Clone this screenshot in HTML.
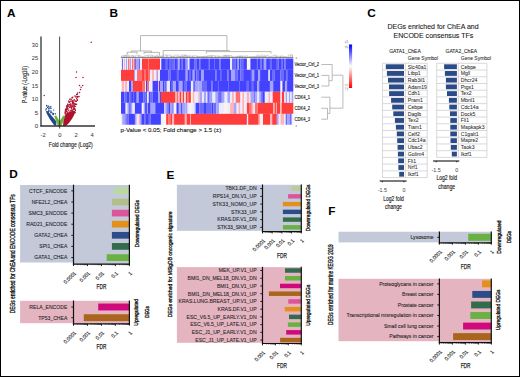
<!DOCTYPE html>
<html><head><meta charset="utf-8"><style>
html,body{margin:0;padding:0;background:#fff;}
body{width:520px;height:377px;overflow:hidden;}
svg{display:block;font-family:"Liberation Sans", sans-serif;}
</style></head><body>
<svg width="520" height="377" viewBox="0 0 520 377">
<defs>
<linearGradient id="cb" x1="0" y1="0" x2="0" y2="1"><stop offset="0" stop-color="#0000ff"/><stop offset="0.5" stop-color="#ffffff"/><stop offset="1" stop-color="#ff0000"/></linearGradient>
<clipPath id="hc"><rect x="121" y="58.5" width="172.3" height="66.2"/></clipPath>
<filter id="hb" x="-0.01" y="-0.01" width="1.02" height="1.02"><feGaussianBlur stdDeviation="0.35"/></filter>
</defs>
<rect x="0" y="0" width="520" height="377" fill="#fff"/>
<text x="6.9" y="16.7" font-size="11.8" text-anchor="start" font-weight="bold" fill="#000">A</text>
<text x="109.5" y="16.7" font-size="11.8" text-anchor="start" font-weight="bold" fill="#000">B</text>
<text x="367.2" y="16.6" font-size="11.8" text-anchor="start" font-weight="bold" fill="#000">C</text>
<text x="9.2" y="178.3" font-size="11.8" text-anchor="start" font-weight="bold" fill="#000">D</text>
<text x="166.5" y="179.3" font-size="11.8" text-anchor="start" font-weight="bold" fill="#000">E</text>
<text x="328.2" y="215.2" font-size="11.8" text-anchor="start" font-weight="bold" fill="#000">F</text>
<polygon points="63,126.3 65.5,126.3 69,123 72.5,118 74.6,114 75.2,111.5 73,111 70,112 67,113 65,116 63.5,120" fill="#b0102e"/>
<circle cx="69.82" cy="111.96" r="0.72" fill="#b0102e"/>
<circle cx="70.50" cy="112.40" r="0.72" fill="#b0102e"/>
<circle cx="66.55" cy="111.19" r="0.72" fill="#b0102e"/>
<circle cx="65.41" cy="115.95" r="0.72" fill="#b0102e"/>
<circle cx="72.76" cy="103.67" r="0.72" fill="#b0102e"/>
<circle cx="72.28" cy="112.85" r="0.72" fill="#b0102e"/>
<circle cx="70.75" cy="103.95" r="0.72" fill="#b0102e"/>
<circle cx="66.62" cy="106.87" r="0.72" fill="#b0102e"/>
<circle cx="70.63" cy="113.24" r="0.72" fill="#b0102e"/>
<circle cx="69.88" cy="107.45" r="0.72" fill="#b0102e"/>
<circle cx="68.15" cy="106.67" r="0.72" fill="#b0102e"/>
<circle cx="73.65" cy="109.41" r="0.72" fill="#b0102e"/>
<circle cx="74.63" cy="109.18" r="0.72" fill="#b0102e"/>
<circle cx="75.41" cy="110.52" r="0.72" fill="#b0102e"/>
<circle cx="65.19" cy="113.07" r="0.72" fill="#b0102e"/>
<circle cx="73.80" cy="107.32" r="0.72" fill="#b0102e"/>
<circle cx="74.02" cy="105.84" r="0.72" fill="#b0102e"/>
<circle cx="71.12" cy="110.16" r="0.72" fill="#b0102e"/>
<circle cx="66.63" cy="114.71" r="0.72" fill="#b0102e"/>
<circle cx="65.90" cy="113.30" r="0.72" fill="#b0102e"/>
<circle cx="65.72" cy="109.73" r="0.72" fill="#b0102e"/>
<circle cx="66.90" cy="107.32" r="0.72" fill="#b0102e"/>
<circle cx="66.87" cy="109.31" r="0.72" fill="#b0102e"/>
<circle cx="66.90" cy="107.13" r="0.72" fill="#b0102e"/>
<circle cx="73.73" cy="108.26" r="0.72" fill="#b0102e"/>
<circle cx="65.40" cy="112.32" r="0.72" fill="#b0102e"/>
<circle cx="67.26" cy="112.62" r="0.72" fill="#b0102e"/>
<circle cx="68.83" cy="110.25" r="0.72" fill="#b0102e"/>
<circle cx="67.34" cy="106.04" r="0.72" fill="#b0102e"/>
<circle cx="75.06" cy="112.66" r="0.72" fill="#b0102e"/>
<circle cx="69.44" cy="104.66" r="0.72" fill="#b0102e"/>
<circle cx="67.21" cy="114.27" r="0.72" fill="#b0102e"/>
<circle cx="71.58" cy="107.69" r="0.72" fill="#b0102e"/>
<circle cx="66.44" cy="114.53" r="0.72" fill="#b0102e"/>
<circle cx="71.79" cy="107.48" r="0.72" fill="#b0102e"/>
<circle cx="75.49" cy="106.26" r="0.72" fill="#b0102e"/>
<circle cx="66.45" cy="108.90" r="0.72" fill="#b0102e"/>
<circle cx="71.28" cy="105.11" r="0.72" fill="#b0102e"/>
<circle cx="72.73" cy="112.35" r="0.72" fill="#b0102e"/>
<circle cx="64.52" cy="117.56" r="0.72" fill="#b0102e"/>
<circle cx="65.22" cy="111.74" r="0.72" fill="#b0102e"/>
<circle cx="68.59" cy="113.96" r="0.72" fill="#b0102e"/>
<circle cx="74.83" cy="112.16" r="0.72" fill="#b0102e"/>
<circle cx="71.92" cy="109.12" r="0.72" fill="#b0102e"/>
<circle cx="71.41" cy="112.74" r="0.72" fill="#b0102e"/>
<circle cx="65.28" cy="113.23" r="0.72" fill="#b0102e"/>
<circle cx="73.18" cy="109.21" r="0.72" fill="#b0102e"/>
<circle cx="73.27" cy="112.30" r="0.72" fill="#b0102e"/>
<circle cx="65.32" cy="115.00" r="0.72" fill="#b0102e"/>
<circle cx="70.17" cy="106.68" r="0.72" fill="#b0102e"/>
<circle cx="72.82" cy="110.96" r="0.72" fill="#b0102e"/>
<circle cx="67.97" cy="113.85" r="0.72" fill="#b0102e"/>
<circle cx="68.29" cy="113.65" r="0.72" fill="#b0102e"/>
<circle cx="66.72" cy="109.89" r="0.72" fill="#b0102e"/>
<circle cx="75.04" cy="109.15" r="0.72" fill="#b0102e"/>
<circle cx="71.41" cy="108.06" r="0.72" fill="#b0102e"/>
<circle cx="65.96" cy="110.94" r="0.72" fill="#b0102e"/>
<circle cx="67.68" cy="105.71" r="0.72" fill="#b0102e"/>
<circle cx="69.80" cy="107.40" r="0.72" fill="#b0102e"/>
<circle cx="66.91" cy="109.62" r="0.72" fill="#b0102e"/>
<circle cx="71.93" cy="110.90" r="0.72" fill="#b0102e"/>
<circle cx="74.95" cy="103.66" r="0.72" fill="#b0102e"/>
<circle cx="72.95" cy="112.13" r="0.72" fill="#b0102e"/>
<circle cx="74.42" cy="106.80" r="0.72" fill="#b0102e"/>
<circle cx="71.98" cy="110.14" r="0.72" fill="#b0102e"/>
<circle cx="72.65" cy="106.19" r="0.72" fill="#b0102e"/>
<circle cx="70.10" cy="105.86" r="0.72" fill="#b0102e"/>
<circle cx="73.01" cy="105.87" r="0.72" fill="#b0102e"/>
<circle cx="67.62" cy="108.53" r="0.72" fill="#b0102e"/>
<circle cx="72.81" cy="111.33" r="0.72" fill="#b0102e"/>
<circle cx="75.36" cy="104.40" r="0.72" fill="#b0102e"/>
<circle cx="65.88" cy="110.26" r="0.72" fill="#b0102e"/>
<circle cx="68.90" cy="112.10" r="0.72" fill="#b0102e"/>
<circle cx="72.25" cy="106.28" r="0.72" fill="#b0102e"/>
<circle cx="74.74" cy="108.58" r="0.72" fill="#b0102e"/>
<circle cx="65.31" cy="110.05" r="0.72" fill="#b0102e"/>
<circle cx="74.17" cy="104.02" r="0.72" fill="#b0102e"/>
<circle cx="74.06" cy="105.77" r="0.72" fill="#b0102e"/>
<circle cx="75.88" cy="104.38" r="0.72" fill="#b0102e"/>
<circle cx="67.00" cy="111.43" r="0.72" fill="#b0102e"/>
<circle cx="72.09" cy="111.36" r="0.72" fill="#b0102e"/>
<circle cx="74.59" cy="111.96" r="0.72" fill="#b0102e"/>
<circle cx="68.10" cy="109.10" r="0.72" fill="#b0102e"/>
<circle cx="71.29" cy="106.22" r="0.72" fill="#b0102e"/>
<circle cx="70.84" cy="111.05" r="0.72" fill="#b0102e"/>
<circle cx="72.74" cy="102.37" r="0.7" fill="#b0102e"/>
<circle cx="72.42" cy="101.21" r="0.7" fill="#b0102e"/>
<circle cx="68.81" cy="102.10" r="0.7" fill="#b0102e"/>
<circle cx="71.59" cy="99.76" r="0.7" fill="#b0102e"/>
<circle cx="67.77" cy="104.27" r="0.7" fill="#b0102e"/>
<circle cx="77.60" cy="96.94" r="0.7" fill="#b0102e"/>
<circle cx="74.41" cy="99.83" r="0.7" fill="#b0102e"/>
<circle cx="69.96" cy="104.30" r="0.7" fill="#b0102e"/>
<circle cx="66.61" cy="105.96" r="0.7" fill="#b0102e"/>
<circle cx="72.31" cy="101.55" r="0.7" fill="#b0102e"/>
<circle cx="70.23" cy="101.20" r="0.7" fill="#b0102e"/>
<circle cx="72.29" cy="97.40" r="0.7" fill="#b0102e"/>
<circle cx="67.94" cy="104.47" r="0.7" fill="#b0102e"/>
<circle cx="73.76" cy="102.94" r="0.7" fill="#b0102e"/>
<circle cx="76.61" cy="104.18" r="0.7" fill="#b0102e"/>
<circle cx="76.68" cy="98.49" r="0.7" fill="#b0102e"/>
<circle cx="77.30" cy="99.74" r="0.7" fill="#b0102e"/>
<circle cx="77.09" cy="97.01" r="0.7" fill="#b0102e"/>
<circle cx="68.41" cy="105.90" r="0.7" fill="#b0102e"/>
<circle cx="76.35" cy="101.32" r="0.7" fill="#b0102e"/>
<circle cx="75.79" cy="96.89" r="0.7" fill="#b0102e"/>
<circle cx="70.60" cy="105.28" r="0.7" fill="#b0102e"/>
<circle cx="78.18" cy="96.73" r="0.7" fill="#b0102e"/>
<circle cx="72.59" cy="102.72" r="0.7" fill="#b0102e"/>
<circle cx="72.82" cy="97.20" r="0.7" fill="#b0102e"/>
<circle cx="77.62" cy="96.43" r="0.7" fill="#b0102e"/>
<circle cx="69.58" cy="102.00" r="0.7" fill="#b0102e"/>
<circle cx="72.10" cy="101.45" r="0.7" fill="#b0102e"/>
<circle cx="75.11" cy="101.08" r="0.7" fill="#b0102e"/>
<circle cx="73.63" cy="101.07" r="0.7" fill="#b0102e"/>
<circle cx="73.23" cy="102.56" r="0.7" fill="#b0102e"/>
<circle cx="76.12" cy="101.08" r="0.7" fill="#b0102e"/>
<circle cx="75.45" cy="101.09" r="0.7" fill="#b0102e"/>
<circle cx="74.88" cy="96.06" r="0.7" fill="#b0102e"/>
<circle cx="69.78" cy="102.03" r="0.7" fill="#b0102e"/>
<circle cx="73.76" cy="104.36" r="0.7" fill="#b0102e"/>
<circle cx="74.13" cy="100.07" r="0.7" fill="#b0102e"/>
<circle cx="74.04" cy="103.54" r="0.7" fill="#b0102e"/>
<circle cx="72.34" cy="100.84" r="0.7" fill="#b0102e"/>
<circle cx="68.64" cy="101.02" r="0.7" fill="#b0102e"/>
<circle cx="72.57" cy="102.62" r="0.7" fill="#b0102e"/>
<circle cx="76.05" cy="96.14" r="0.7" fill="#b0102e"/>
<circle cx="65.80" cy="108.95" r="0.7" fill="#b0102e"/>
<circle cx="72.26" cy="103.97" r="0.7" fill="#b0102e"/>
<circle cx="70.10" cy="99.29" r="0.7" fill="#b0102e"/>
<circle cx="91.2" cy="42.3" r="0.75" fill="#b0102e"/>
<circle cx="76.5" cy="72" r="0.75" fill="#b0102e"/>
<circle cx="76" cy="77.5" r="0.75" fill="#b0102e"/>
<circle cx="83" cy="77.4" r="0.75" fill="#b0102e"/>
<circle cx="79.5" cy="85.4" r="0.75" fill="#b0102e"/>
<circle cx="82.7" cy="85.4" r="0.75" fill="#b0102e"/>
<circle cx="81.1" cy="87.3" r="0.75" fill="#b0102e"/>
<circle cx="80.5" cy="89.5" r="0.75" fill="#b0102e"/>
<circle cx="79.5" cy="92.4" r="0.75" fill="#b0102e"/>
<circle cx="76.7" cy="94.6" r="0.75" fill="#b0102e"/>
<circle cx="77.5" cy="93" r="0.75" fill="#b0102e"/>
<circle cx="77.2" cy="94.2" r="0.75" fill="#b0102e"/>
<circle cx="79" cy="96.5" r="0.75" fill="#b0102e"/>
<circle cx="77.5" cy="100.2" r="0.75" fill="#b0102e"/>
<circle cx="72" cy="98" r="0.75" fill="#b0102e"/>
<circle cx="70" cy="99.3" r="0.75" fill="#b0102e"/>
<polygon points="56.3,125.6 54.5,125.8 50,119.5 46.5,113.2 46,110.8 48,111.2 51,115 54,118.5 56.4,121.5" fill="#254a8c"/>
<circle cx="51.73" cy="112.55" r="0.68" fill="#254a8c"/>
<circle cx="53.45" cy="114.45" r="0.68" fill="#254a8c"/>
<circle cx="52.90" cy="114.26" r="0.68" fill="#254a8c"/>
<circle cx="45.79" cy="109.92" r="0.68" fill="#254a8c"/>
<circle cx="50.19" cy="107.84" r="0.68" fill="#254a8c"/>
<circle cx="50.94" cy="110.95" r="0.68" fill="#254a8c"/>
<circle cx="47.59" cy="107.55" r="0.68" fill="#254a8c"/>
<circle cx="55.32" cy="113.79" r="0.68" fill="#254a8c"/>
<circle cx="50.89" cy="111.94" r="0.68" fill="#254a8c"/>
<circle cx="49.11" cy="107.08" r="0.68" fill="#254a8c"/>
<circle cx="46.96" cy="106.12" r="0.68" fill="#254a8c"/>
<circle cx="48.51" cy="111.23" r="0.68" fill="#254a8c"/>
<circle cx="48.88" cy="108.44" r="0.68" fill="#254a8c"/>
<circle cx="53.69" cy="110.07" r="0.68" fill="#254a8c"/>
<circle cx="48.66" cy="110.07" r="0.68" fill="#254a8c"/>
<circle cx="53.00" cy="113.53" r="0.68" fill="#254a8c"/>
<circle cx="49.16" cy="111.00" r="0.68" fill="#254a8c"/>
<circle cx="48.94" cy="108.87" r="0.68" fill="#254a8c"/>
<circle cx="50.75" cy="112.87" r="0.68" fill="#254a8c"/>
<circle cx="53.47" cy="113.67" r="0.68" fill="#254a8c"/>
<circle cx="46.41" cy="108.74" r="0.68" fill="#254a8c"/>
<circle cx="50.95" cy="108.47" r="0.68" fill="#254a8c"/>
<circle cx="44.2" cy="95.5" r="0.75" fill="#254a8c"/>
<circle cx="46.6" cy="105.5" r="0.75" fill="#254a8c"/>
<circle cx="48.5" cy="106.2" r="0.75" fill="#254a8c"/>
<circle cx="50.8" cy="106.8" r="0.75" fill="#254a8c"/>
<polygon points="54.2,116 56.2,115.4 59.6,121.3 63.2,115.4 65.2,116.2 61.2,126.6 58.1,126.6" fill="#6cb33f"/>
<line x1="41" y1="36.6" x2="41" y2="126.6" stroke="#333" stroke-width="1.3"/>
<line x1="40.4" y1="126" x2="95" y2="126" stroke="#333" stroke-width="1.3"/>
<line x1="59.6" y1="36.6" x2="59.6" y2="128.5" stroke="#333" stroke-width="0.9"/>
<text x="38.1" y="128.3" font-size="6.1" text-anchor="end" font-weight="normal" fill="#3a3a3a" stroke="#3a3a3a" stroke-width="0.05">0</text>
<text x="38.1" y="114.7" font-size="6.1" text-anchor="end" font-weight="normal" fill="#3a3a3a" stroke="#3a3a3a" stroke-width="0.05">5</text>
<text x="38.1" y="101.1" font-size="6.1" text-anchor="end" font-weight="normal" fill="#3a3a3a" textLength="6.3" lengthAdjust="spacingAndGlyphs" stroke="#3a3a3a" stroke-width="0.05">10</text>
<text x="38.1" y="87.49999999999999" font-size="6.1" text-anchor="end" font-weight="normal" fill="#3a3a3a" textLength="6.3" lengthAdjust="spacingAndGlyphs" stroke="#3a3a3a" stroke-width="0.05">15</text>
<text x="38.1" y="73.89999999999999" font-size="6.1" text-anchor="end" font-weight="normal" fill="#3a3a3a" textLength="6.3" lengthAdjust="spacingAndGlyphs" stroke="#3a3a3a" stroke-width="0.05">20</text>
<text x="38.1" y="60.3" font-size="6.1" text-anchor="end" font-weight="normal" fill="#3a3a3a" textLength="6.3" lengthAdjust="spacingAndGlyphs" stroke="#3a3a3a" stroke-width="0.05">25</text>
<text x="38.1" y="46.69999999999999" font-size="6.1" text-anchor="end" font-weight="normal" fill="#3a3a3a" textLength="6.3" lengthAdjust="spacingAndGlyphs" stroke="#3a3a3a" stroke-width="0.05">30</text>
<text x="43.199999999999996" y="136.9" font-size="5.8" text-anchor="middle" font-weight="normal" fill="#3a3a3a" stroke="#3a3a3a" stroke-width="0.05">-2</text>
<text x="59.8" y="136.9" font-size="5.8" text-anchor="middle" font-weight="normal" fill="#3a3a3a" stroke="#3a3a3a" stroke-width="0.05">0</text>
<text x="76.0" y="136.9" font-size="5.8" text-anchor="middle" font-weight="normal" fill="#3a3a3a" stroke="#3a3a3a" stroke-width="0.05">2</text>
<text x="92.19999999999999" y="136.9" font-size="5.8" text-anchor="middle" font-weight="normal" fill="#3a3a3a" stroke="#3a3a3a" stroke-width="0.05">4</text>
<text x="70.8" y="146.8" font-size="6.9" text-anchor="middle" font-weight="normal" fill="#222" textLength="44" lengthAdjust="spacingAndGlyphs" stroke="#222" stroke-width="0.15">Fold change (Log2)</text>
<text transform="translate(26.9,84.5) rotate(-90)" font-size="6.6" text-anchor="middle" font-weight="normal" fill="#222" textLength="37" lengthAdjust="spacingAndGlyphs" stroke="#222" stroke-width="0.15">P-value (-Log10)</text>
<g clip-path="url(#hc)"><g filter="url(#hb)">
<rect x="119.50" y="57.00" width="2.55" height="12.85" fill="#ececff"/>
<rect x="122.00" y="57.00" width="1.05" height="12.85" fill="#6a6aff"/>
<rect x="123.00" y="57.00" width="1.05" height="12.85" fill="#ececff"/>
<rect x="124.00" y="57.00" width="1.05" height="12.85" fill="#ffb4b4"/>
<rect x="125.00" y="57.00" width="1.05" height="12.85" fill="#ececff"/>
<rect x="126.00" y="57.00" width="1.05" height="12.85" fill="#a4a4ff"/>
<rect x="127.00" y="57.00" width="1.05" height="12.85" fill="#ececff"/>
<rect x="128.00" y="57.00" width="1.05" height="12.85" fill="#ff7070"/>
<rect x="129.00" y="57.00" width="1.05" height="12.85" fill="#ffb4b4"/>
<rect x="130.00" y="57.00" width="1.05" height="12.85" fill="#a4a4ff"/>
<rect x="131.00" y="57.00" width="1.05" height="12.85" fill="#ececff"/>
<rect x="132.00" y="57.00" width="1.05" height="12.85" fill="#ff7070"/>
<rect x="133.00" y="57.00" width="1.05" height="12.85" fill="#ffb4b4"/>
<rect x="134.00" y="57.00" width="1.05" height="12.85" fill="#ff7070"/>
<rect x="135.00" y="57.00" width="1.05" height="12.85" fill="#6a6aff"/>
<rect x="136.00" y="57.00" width="3.05" height="12.85" fill="#a4a4ff"/>
<rect x="139.00" y="57.00" width="1.05" height="12.85" fill="#6a6aff"/>
<rect x="140.00" y="57.00" width="2.05" height="12.85" fill="#ececff"/>
<rect x="142.00" y="57.00" width="6.05" height="12.85" fill="#ff3c3c"/>
<rect x="148.00" y="57.00" width="0.85" height="12.85" fill="#ff7070"/>
<rect x="148.80" y="57.00" width="11.25" height="12.85" fill="#ff3c3c"/>
<rect x="160.00" y="57.00" width="1.35" height="12.85" fill="#ececff"/>
<rect x="161.30" y="57.00" width="4.55" height="12.85" fill="#4242ff"/>
<rect x="165.80" y="57.00" width="1.45" height="12.85" fill="#6a6aff"/>
<rect x="167.20" y="57.00" width="1.85" height="12.85" fill="#4242ff"/>
<rect x="169.00" y="57.00" width="1.95" height="12.85" fill="#6a6aff"/>
<rect x="170.90" y="57.00" width="0.95" height="12.85" fill="#4242ff"/>
<rect x="171.80" y="57.00" width="2.85" height="12.85" fill="#6a6aff"/>
<rect x="174.60" y="57.00" width="2.35" height="12.85" fill="#4242ff"/>
<rect x="176.90" y="57.00" width="1.45" height="12.85" fill="#6a6aff"/>
<rect x="178.30" y="57.00" width="1.45" height="12.85" fill="#a4a4ff"/>
<rect x="179.70" y="57.00" width="1.35" height="12.85" fill="#4242ff"/>
<rect x="181.00" y="57.00" width="1.55" height="12.85" fill="#6a6aff"/>
<rect x="182.50" y="57.00" width="2.85" height="12.85" fill="#4242ff"/>
<rect x="185.30" y="57.00" width="1.45" height="12.85" fill="#6a6aff"/>
<rect x="186.70" y="57.00" width="1.35" height="12.85" fill="#a4a4ff"/>
<rect x="188.00" y="57.00" width="1.55" height="12.85" fill="#ececff"/>
<rect x="189.50" y="57.00" width="5.15" height="12.85" fill="#4242ff"/>
<rect x="194.60" y="57.00" width="1.85" height="12.85" fill="#6a6aff"/>
<rect x="196.40" y="57.00" width="2.85" height="12.85" fill="#4242ff"/>
<rect x="199.20" y="57.00" width="1.85" height="12.85" fill="#6a6aff"/>
<rect x="201.00" y="57.00" width="7.85" height="12.85" fill="#4242ff"/>
<rect x="208.80" y="57.00" width="0.75" height="12.85" fill="#6a6aff"/>
<rect x="209.50" y="57.00" width="4.55" height="12.85" fill="#4242ff"/>
<rect x="214.00" y="57.00" width="1.05" height="12.85" fill="#6a6aff"/>
<rect x="215.00" y="57.00" width="4.55" height="12.85" fill="#4242ff"/>
<rect x="219.50" y="57.00" width="1.05" height="12.85" fill="#6a6aff"/>
<rect x="220.50" y="57.00" width="9.65" height="12.85" fill="#4242ff"/>
<rect x="230.10" y="57.00" width="1.95" height="12.85" fill="#ececff"/>
<rect x="232.00" y="57.00" width="3.75" height="12.85" fill="#6a6aff"/>
<rect x="235.70" y="57.00" width="1.95" height="12.85" fill="#4242ff"/>
<rect x="237.60" y="57.00" width="1.45" height="12.85" fill="#a4a4ff"/>
<rect x="239.00" y="57.00" width="1.45" height="12.85" fill="#4242ff"/>
<rect x="240.40" y="57.00" width="2.85" height="12.85" fill="#6a6aff"/>
<rect x="243.20" y="57.00" width="3.75" height="12.85" fill="#4242ff"/>
<rect x="246.90" y="57.00" width="3.55" height="12.85" fill="#fff2ee"/>
<rect x="250.40" y="57.00" width="6.55" height="12.85" fill="#4242ff"/>
<rect x="256.90" y="57.00" width="0.95" height="12.85" fill="#6a6aff"/>
<rect x="257.80" y="57.00" width="2.35" height="12.85" fill="#4242ff"/>
<rect x="260.10" y="57.00" width="1.45" height="12.85" fill="#6a6aff"/>
<rect x="261.50" y="57.00" width="2.35" height="12.85" fill="#4242ff"/>
<rect x="263.80" y="57.00" width="2.45" height="12.85" fill="#a4a4ff"/>
<rect x="266.20" y="57.00" width="3.75" height="12.85" fill="#4242ff"/>
<rect x="269.90" y="57.00" width="1.45" height="12.85" fill="#6a6aff"/>
<rect x="271.30" y="57.00" width="5.55" height="12.85" fill="#4242ff"/>
<rect x="276.80" y="57.00" width="1.95" height="12.85" fill="#6a6aff"/>
<rect x="278.70" y="57.00" width="2.35" height="12.85" fill="#4242ff"/>
<rect x="281.00" y="57.00" width="1.45" height="12.85" fill="#6a6aff"/>
<rect x="282.40" y="57.00" width="1.95" height="12.85" fill="#4242ff"/>
<rect x="284.30" y="57.00" width="1.45" height="12.85" fill="#6a6aff"/>
<rect x="285.70" y="57.00" width="9.15" height="12.85" fill="#4242ff"/>
<rect x="119.50" y="69.80" width="14.55" height="11.15" fill="#ff3c3c"/>
<rect x="134.00" y="69.80" width="1.05" height="11.15" fill="#a4a4ff"/>
<rect x="135.00" y="69.80" width="2.05" height="11.15" fill="#ececff"/>
<rect x="137.00" y="69.80" width="5.05" height="11.15" fill="#ff7070"/>
<rect x="142.00" y="69.80" width="2.05" height="11.15" fill="#ff3c3c"/>
<rect x="144.00" y="69.80" width="2.05" height="11.15" fill="#ff7070"/>
<rect x="146.00" y="69.80" width="2.05" height="11.15" fill="#ff3c3c"/>
<rect x="148.00" y="69.80" width="2.05" height="11.15" fill="#ff7070"/>
<rect x="150.00" y="69.80" width="2.05" height="11.15" fill="#ececff"/>
<rect x="152.00" y="69.80" width="2.05" height="11.15" fill="#ffb4b4"/>
<rect x="154.00" y="69.80" width="2.05" height="11.15" fill="#ececff"/>
<rect x="156.00" y="69.80" width="1.05" height="11.15" fill="#ffb4b4"/>
<rect x="157.00" y="69.80" width="1.05" height="11.15" fill="#a4a4ff"/>
<rect x="158.00" y="69.80" width="2.05" height="11.15" fill="#ececff"/>
<rect x="160.00" y="69.80" width="8.55" height="11.15" fill="#4242ff"/>
<rect x="168.50" y="69.80" width="2.05" height="11.15" fill="#6a6aff"/>
<rect x="170.50" y="69.80" width="6.45" height="11.15" fill="#4242ff"/>
<rect x="176.90" y="69.80" width="1.45" height="11.15" fill="#6a6aff"/>
<rect x="178.30" y="69.80" width="7.45" height="11.15" fill="#4242ff"/>
<rect x="185.70" y="69.80" width="1.95" height="11.15" fill="#a4a4ff"/>
<rect x="187.60" y="69.80" width="1.45" height="11.15" fill="#4242ff"/>
<rect x="189.00" y="69.80" width="1.95" height="11.15" fill="#6a6aff"/>
<rect x="190.90" y="69.80" width="1.85" height="11.15" fill="#4242ff"/>
<rect x="192.70" y="69.80" width="1.95" height="11.15" fill="#a4a4ff"/>
<rect x="194.60" y="69.80" width="1.85" height="11.15" fill="#4242ff"/>
<rect x="196.40" y="69.80" width="1.95" height="11.15" fill="#6a6aff"/>
<rect x="198.30" y="69.80" width="2.75" height="11.15" fill="#4242ff"/>
<rect x="201.00" y="69.80" width="2.95" height="11.15" fill="#a4a4ff"/>
<rect x="203.90" y="69.80" width="11.45" height="11.15" fill="#4242ff"/>
<rect x="215.30" y="69.80" width="1.25" height="11.15" fill="#6a6aff"/>
<rect x="216.50" y="69.80" width="3.55" height="11.15" fill="#4242ff"/>
<rect x="220.00" y="69.80" width="1.25" height="11.15" fill="#6a6aff"/>
<rect x="221.20" y="69.80" width="6.25" height="11.15" fill="#4242ff"/>
<rect x="227.40" y="69.80" width="1.15" height="11.15" fill="#6a6aff"/>
<rect x="228.50" y="69.80" width="2.55" height="11.15" fill="#4242ff"/>
<rect x="231.00" y="69.80" width="3.85" height="11.15" fill="#a4a4ff"/>
<rect x="234.80" y="69.80" width="2.85" height="11.15" fill="#6a6aff"/>
<rect x="237.60" y="69.80" width="2.85" height="11.15" fill="#4242ff"/>
<rect x="240.40" y="69.80" width="2.85" height="11.15" fill="#6a6aff"/>
<rect x="243.20" y="69.80" width="7.75" height="11.15" fill="#4242ff"/>
<rect x="250.90" y="69.80" width="1.75" height="11.15" fill="#6a6aff"/>
<rect x="252.60" y="69.80" width="1.05" height="11.15" fill="#a4a4ff"/>
<rect x="253.60" y="69.80" width="1.45" height="11.15" fill="#6a6aff"/>
<rect x="255.00" y="69.80" width="3.35" height="11.15" fill="#4242ff"/>
<rect x="258.30" y="69.80" width="1.85" height="11.15" fill="#a4a4ff"/>
<rect x="260.10" y="69.80" width="8.45" height="11.15" fill="#4242ff"/>
<rect x="268.50" y="69.80" width="1.45" height="11.15" fill="#ececff"/>
<rect x="269.90" y="69.80" width="2.85" height="11.15" fill="#4242ff"/>
<rect x="272.70" y="69.80" width="1.85" height="11.15" fill="#6a6aff"/>
<rect x="274.50" y="69.80" width="6.05" height="11.15" fill="#4242ff"/>
<rect x="280.50" y="69.80" width="2.85" height="11.15" fill="#6a6aff"/>
<rect x="283.30" y="69.80" width="2.85" height="11.15" fill="#4242ff"/>
<rect x="286.10" y="69.80" width="1.95" height="11.15" fill="#6a6aff"/>
<rect x="288.00" y="69.80" width="6.85" height="11.15" fill="#4242ff"/>
<rect x="119.50" y="80.90" width="2.55" height="10.90" fill="#ececff"/>
<rect x="122.00" y="80.90" width="2.05" height="10.90" fill="#ffb4b4"/>
<rect x="124.00" y="80.90" width="1.05" height="10.90" fill="#ececff"/>
<rect x="125.00" y="80.90" width="2.05" height="10.90" fill="#ffb4b4"/>
<rect x="127.00" y="80.90" width="2.05" height="10.90" fill="#ececff"/>
<rect x="129.00" y="80.90" width="2.05" height="10.90" fill="#4242ff"/>
<rect x="131.00" y="80.90" width="2.05" height="10.90" fill="#a4a4ff"/>
<rect x="133.00" y="80.90" width="9.05" height="10.90" fill="#ff3c3c"/>
<rect x="142.00" y="80.90" width="3.05" height="10.90" fill="#ff7070"/>
<rect x="145.00" y="80.90" width="1.05" height="10.90" fill="#ececff"/>
<rect x="146.00" y="80.90" width="1.05" height="10.90" fill="#4242ff"/>
<rect x="147.00" y="80.90" width="2.05" height="10.90" fill="#ff7070"/>
<rect x="149.00" y="80.90" width="3.05" height="10.90" fill="#ececff"/>
<rect x="152.00" y="80.90" width="1.05" height="10.90" fill="#a4a4ff"/>
<rect x="153.00" y="80.90" width="5.05" height="10.90" fill="#4242ff"/>
<rect x="158.00" y="80.90" width="1.05" height="10.90" fill="#ffb4b4"/>
<rect x="159.00" y="80.90" width="1.05" height="10.90" fill="#4242ff"/>
<rect x="160.00" y="80.90" width="3.05" height="10.90" fill="#a4a4ff"/>
<rect x="163.00" y="80.90" width="1.45" height="10.90" fill="#4242ff"/>
<rect x="164.40" y="80.90" width="0.95" height="10.90" fill="#6a6aff"/>
<rect x="165.30" y="80.90" width="1.45" height="10.90" fill="#4242ff"/>
<rect x="166.70" y="80.90" width="3.35" height="10.90" fill="#ececff"/>
<rect x="170.00" y="80.90" width="1.85" height="10.90" fill="#4242ff"/>
<rect x="171.80" y="80.90" width="1.45" height="10.90" fill="#6a6aff"/>
<rect x="173.20" y="80.90" width="2.85" height="10.90" fill="#a4a4ff"/>
<rect x="176.00" y="80.90" width="2.85" height="10.90" fill="#4242ff"/>
<rect x="178.80" y="80.90" width="3.75" height="10.90" fill="#a4a4ff"/>
<rect x="182.50" y="80.90" width="1.55" height="10.90" fill="#4242ff"/>
<rect x="184.00" y="80.90" width="2.55" height="10.90" fill="#6a6aff"/>
<rect x="186.50" y="80.90" width="4.45" height="10.90" fill="#4242ff"/>
<rect x="190.90" y="80.90" width="2.35" height="10.90" fill="#ececff"/>
<rect x="193.20" y="80.90" width="1.85" height="10.90" fill="#6a6aff"/>
<rect x="195.00" y="80.90" width="3.35" height="10.90" fill="#a4a4ff"/>
<rect x="198.30" y="80.90" width="3.75" height="10.90" fill="#a4a4ff"/>
<rect x="202.00" y="80.90" width="5.05" height="10.90" fill="#6a6aff"/>
<rect x="207.00" y="80.90" width="4.55" height="10.90" fill="#4242ff"/>
<rect x="211.50" y="80.90" width="1.05" height="10.90" fill="#6a6aff"/>
<rect x="212.50" y="80.90" width="5.55" height="10.90" fill="#4242ff"/>
<rect x="218.00" y="80.90" width="1.05" height="10.90" fill="#6a6aff"/>
<rect x="219.00" y="80.90" width="9.05" height="10.90" fill="#4242ff"/>
<rect x="228.00" y="80.90" width="1.05" height="10.90" fill="#6a6aff"/>
<rect x="229.00" y="80.90" width="10.05" height="10.90" fill="#4242ff"/>
<rect x="239.00" y="80.90" width="1.05" height="10.90" fill="#6a6aff"/>
<rect x="240.00" y="80.90" width="6.85" height="10.90" fill="#4242ff"/>
<rect x="246.80" y="80.90" width="2.25" height="10.90" fill="#6a6aff"/>
<rect x="249.00" y="80.90" width="2.85" height="10.90" fill="#4242ff"/>
<rect x="251.80" y="80.90" width="1.45" height="10.90" fill="#6a6aff"/>
<rect x="253.20" y="80.90" width="4.15" height="10.90" fill="#4242ff"/>
<rect x="257.30" y="80.90" width="1.95" height="10.90" fill="#a4a4ff"/>
<rect x="259.20" y="80.90" width="10.75" height="10.90" fill="#4242ff"/>
<rect x="269.90" y="80.90" width="3.35" height="10.90" fill="#a4a4ff"/>
<rect x="273.20" y="80.90" width="7.35" height="10.90" fill="#4242ff"/>
<rect x="280.50" y="80.90" width="1.95" height="10.90" fill="#fff2ee"/>
<rect x="282.40" y="80.90" width="2.85" height="10.90" fill="#4242ff"/>
<rect x="285.20" y="80.90" width="1.95" height="10.90" fill="#a4a4ff"/>
<rect x="287.10" y="80.90" width="7.75" height="10.90" fill="#4242ff"/>
<rect x="119.50" y="91.75" width="4.75" height="11.15" fill="#4242ff"/>
<rect x="124.20" y="91.75" width="2.85" height="11.15" fill="#6a6aff"/>
<rect x="127.00" y="91.75" width="2.35" height="11.15" fill="#4242ff"/>
<rect x="129.30" y="91.75" width="1.85" height="11.15" fill="#6a6aff"/>
<rect x="131.10" y="91.75" width="1.95" height="11.15" fill="#4242ff"/>
<rect x="133.00" y="91.75" width="1.05" height="11.15" fill="#6a6aff"/>
<rect x="134.00" y="91.75" width="2.75" height="11.15" fill="#4242ff"/>
<rect x="136.70" y="91.75" width="1.95" height="11.15" fill="#a4a4ff"/>
<rect x="138.60" y="91.75" width="4.65" height="11.15" fill="#4242ff"/>
<rect x="143.20" y="91.75" width="2.35" height="11.15" fill="#6a6aff"/>
<rect x="145.50" y="91.75" width="1.45" height="11.15" fill="#4242ff"/>
<rect x="146.90" y="91.75" width="1.95" height="11.15" fill="#ececff"/>
<rect x="148.80" y="91.75" width="1.85" height="11.15" fill="#4242ff"/>
<rect x="150.60" y="91.75" width="1.95" height="11.15" fill="#6a6aff"/>
<rect x="152.50" y="91.75" width="5.55" height="11.15" fill="#4242ff"/>
<rect x="158.00" y="91.75" width="2.05" height="11.15" fill="#a4a4ff"/>
<rect x="160.00" y="91.75" width="0.95" height="11.15" fill="#4242ff"/>
<rect x="160.90" y="91.75" width="14.65" height="11.15" fill="#ff3c3c"/>
<rect x="175.50" y="91.75" width="1.45" height="11.15" fill="#ffb4b4"/>
<rect x="176.90" y="91.75" width="1.45" height="11.15" fill="#ff7070"/>
<rect x="178.30" y="91.75" width="1.45" height="11.15" fill="#ffb4b4"/>
<rect x="179.70" y="91.75" width="1.45" height="11.15" fill="#ff3c3c"/>
<rect x="181.10" y="91.75" width="1.95" height="11.15" fill="#ffb4b4"/>
<rect x="183.00" y="91.75" width="1.45" height="11.15" fill="#ff3c3c"/>
<rect x="184.40" y="91.75" width="1.45" height="11.15" fill="#ececff"/>
<rect x="185.80" y="91.75" width="1.85" height="11.15" fill="#ff3c3c"/>
<rect x="187.60" y="91.75" width="1.45" height="11.15" fill="#ff7070"/>
<rect x="189.00" y="91.75" width="1.95" height="11.15" fill="#ff3c3c"/>
<rect x="190.90" y="91.75" width="1.85" height="11.15" fill="#fff2ee"/>
<rect x="192.70" y="91.75" width="1.95" height="11.15" fill="#ffb4b4"/>
<rect x="194.60" y="91.75" width="3.75" height="11.15" fill="#ececff"/>
<rect x="198.30" y="91.75" width="1.45" height="11.15" fill="#ffb4b4"/>
<rect x="199.70" y="91.75" width="2.35" height="11.15" fill="#a4a4ff"/>
<rect x="202.00" y="91.75" width="1.95" height="11.15" fill="#ececff"/>
<rect x="203.90" y="91.75" width="2.15" height="11.15" fill="#a4a4ff"/>
<rect x="206.00" y="91.75" width="1.45" height="11.15" fill="#ececff"/>
<rect x="207.40" y="91.75" width="2.35" height="11.15" fill="#6a6aff"/>
<rect x="209.70" y="91.75" width="2.85" height="11.15" fill="#a4a4ff"/>
<rect x="212.50" y="91.75" width="2.85" height="11.15" fill="#ececff"/>
<rect x="215.30" y="91.75" width="2.85" height="11.15" fill="#a4a4ff"/>
<rect x="218.10" y="91.75" width="3.75" height="11.15" fill="#6a6aff"/>
<rect x="221.80" y="91.75" width="2.85" height="11.15" fill="#a4a4ff"/>
<rect x="224.60" y="91.75" width="2.85" height="11.15" fill="#ececff"/>
<rect x="227.40" y="91.75" width="2.75" height="11.15" fill="#a4a4ff"/>
<rect x="230.10" y="91.75" width="1.95" height="11.15" fill="#ececff"/>
<rect x="232.00" y="91.75" width="1.95" height="11.15" fill="#ffb4b4"/>
<rect x="233.90" y="91.75" width="1.85" height="11.15" fill="#ececff"/>
<rect x="235.70" y="91.75" width="4.75" height="11.15" fill="#ff7070"/>
<rect x="240.40" y="91.75" width="1.95" height="11.15" fill="#ececff"/>
<rect x="242.30" y="91.75" width="1.85" height="11.15" fill="#ffb4b4"/>
<rect x="244.10" y="91.75" width="2.85" height="11.15" fill="#ececff"/>
<rect x="246.90" y="91.75" width="2.65" height="11.15" fill="#ffb4b4"/>
<rect x="249.50" y="91.75" width="0.95" height="11.15" fill="#ececff"/>
<rect x="250.40" y="91.75" width="3.75" height="11.15" fill="#a4a4ff"/>
<rect x="254.10" y="91.75" width="1.45" height="11.15" fill="#6a6aff"/>
<rect x="255.50" y="91.75" width="1.85" height="11.15" fill="#a4a4ff"/>
<rect x="257.30" y="91.75" width="1.95" height="11.15" fill="#ececff"/>
<rect x="259.20" y="91.75" width="1.95" height="11.15" fill="#a4a4ff"/>
<rect x="261.10" y="91.75" width="1.85" height="11.15" fill="#6a6aff"/>
<rect x="262.90" y="91.75" width="1.95" height="11.15" fill="#4242ff"/>
<rect x="264.80" y="91.75" width="3.75" height="11.15" fill="#ececff"/>
<rect x="268.50" y="91.75" width="1.85" height="11.15" fill="#ffb4b4"/>
<rect x="270.30" y="91.75" width="2.45" height="11.15" fill="#ececff"/>
<rect x="272.70" y="91.75" width="7.85" height="11.15" fill="#ff3c3c"/>
<rect x="280.50" y="91.75" width="1.45" height="11.15" fill="#ececff"/>
<rect x="281.90" y="91.75" width="2.45" height="11.15" fill="#ff3c3c"/>
<rect x="284.30" y="91.75" width="1.45" height="11.15" fill="#ececff"/>
<rect x="285.70" y="91.75" width="1.45" height="11.15" fill="#a4a4ff"/>
<rect x="287.10" y="91.75" width="1.95" height="11.15" fill="#ececff"/>
<rect x="289.00" y="91.75" width="1.35" height="11.15" fill="#a4a4ff"/>
<rect x="290.30" y="91.75" width="1.45" height="11.15" fill="#ececff"/>
<rect x="291.70" y="91.75" width="3.15" height="11.15" fill="#a4a4ff"/>
<rect x="119.50" y="102.85" width="6.15" height="11.05" fill="#4242ff"/>
<rect x="125.60" y="102.85" width="1.85" height="11.05" fill="#ececff"/>
<rect x="127.40" y="102.85" width="1.95" height="11.05" fill="#a4a4ff"/>
<rect x="129.30" y="102.85" width="1.45" height="11.05" fill="#4242ff"/>
<rect x="130.70" y="102.85" width="1.85" height="11.05" fill="#a4a4ff"/>
<rect x="132.50" y="102.85" width="2.45" height="11.05" fill="#ececff"/>
<rect x="134.90" y="102.85" width="6.95" height="11.05" fill="#4242ff"/>
<rect x="141.80" y="102.85" width="1.95" height="11.05" fill="#fff2ee"/>
<rect x="143.70" y="102.85" width="1.45" height="11.05" fill="#a4a4ff"/>
<rect x="145.10" y="102.85" width="1.85" height="11.05" fill="#4242ff"/>
<rect x="146.90" y="102.85" width="1.05" height="11.05" fill="#a4a4ff"/>
<rect x="147.90" y="102.85" width="2.75" height="11.05" fill="#4242ff"/>
<rect x="150.60" y="102.85" width="4.75" height="11.05" fill="#a4a4ff"/>
<rect x="155.30" y="102.85" width="7.75" height="11.05" fill="#4242ff"/>
<rect x="163.00" y="102.85" width="1.45" height="11.05" fill="#4242ff"/>
<rect x="164.40" y="102.85" width="0.95" height="11.05" fill="#ececff"/>
<rect x="165.30" y="102.85" width="1.95" height="11.05" fill="#a4a4ff"/>
<rect x="167.20" y="102.85" width="1.45" height="11.05" fill="#6a6aff"/>
<rect x="168.60" y="102.85" width="1.85" height="11.05" fill="#4242ff"/>
<rect x="170.40" y="102.85" width="1.95" height="11.05" fill="#a4a4ff"/>
<rect x="172.30" y="102.85" width="1.45" height="11.05" fill="#6a6aff"/>
<rect x="173.70" y="102.85" width="1.85" height="11.05" fill="#fff2ee"/>
<rect x="175.50" y="102.85" width="1.05" height="11.05" fill="#ececff"/>
<rect x="176.50" y="102.85" width="2.35" height="11.05" fill="#4242ff"/>
<rect x="178.80" y="102.85" width="2.35" height="11.05" fill="#a4a4ff"/>
<rect x="181.10" y="102.85" width="1.45" height="11.05" fill="#4242ff"/>
<rect x="182.50" y="102.85" width="3.25" height="11.05" fill="#a4a4ff"/>
<rect x="185.70" y="102.85" width="1.95" height="11.05" fill="#a4a4ff"/>
<rect x="187.60" y="102.85" width="2.35" height="11.05" fill="#ececff"/>
<rect x="189.90" y="102.85" width="1.45" height="11.05" fill="#fff2ee"/>
<rect x="191.30" y="102.85" width="3.35" height="11.05" fill="#ececff"/>
<rect x="194.60" y="102.85" width="1.45" height="11.05" fill="#a4a4ff"/>
<rect x="196.00" y="102.85" width="3.25" height="11.05" fill="#4242ff"/>
<rect x="199.20" y="102.85" width="4.75" height="11.05" fill="#6a6aff"/>
<rect x="203.90" y="102.85" width="2.15" height="11.05" fill="#4242ff"/>
<rect x="206.00" y="102.85" width="5.65" height="11.05" fill="#6a6aff"/>
<rect x="211.60" y="102.85" width="1.85" height="11.05" fill="#4242ff"/>
<rect x="213.40" y="102.85" width="2.85" height="11.05" fill="#6a6aff"/>
<rect x="216.20" y="102.85" width="2.85" height="11.05" fill="#a4a4ff"/>
<rect x="219.00" y="102.85" width="5.65" height="11.05" fill="#ececff"/>
<rect x="224.60" y="102.85" width="2.85" height="11.05" fill="#fff2ee"/>
<rect x="227.40" y="102.85" width="2.75" height="11.05" fill="#ececff"/>
<rect x="230.10" y="102.85" width="3.85" height="11.05" fill="#ffb4b4"/>
<rect x="233.90" y="102.85" width="2.75" height="11.05" fill="#a4a4ff"/>
<rect x="236.60" y="102.85" width="1.95" height="11.05" fill="#ececff"/>
<rect x="238.50" y="102.85" width="1.95" height="11.05" fill="#ffb4b4"/>
<rect x="240.40" y="102.85" width="1.85" height="11.05" fill="#ececff"/>
<rect x="242.20" y="102.85" width="1.95" height="11.05" fill="#ffb4b4"/>
<rect x="244.10" y="102.85" width="2.85" height="11.05" fill="#ececff"/>
<rect x="246.90" y="102.85" width="2.15" height="11.05" fill="#ff3c3c"/>
<rect x="249.00" y="102.85" width="2.85" height="11.05" fill="#ff7070"/>
<rect x="251.80" y="102.85" width="1.85" height="11.05" fill="#ffb4b4"/>
<rect x="253.60" y="102.85" width="1.45" height="11.05" fill="#ececff"/>
<rect x="255.00" y="102.85" width="2.85" height="11.05" fill="#ff7070"/>
<rect x="257.80" y="102.85" width="15.85" height="11.05" fill="#ff3c3c"/>
<rect x="273.60" y="102.85" width="0.95" height="11.05" fill="#fff2ee"/>
<rect x="274.50" y="102.85" width="1.45" height="11.05" fill="#ff3c3c"/>
<rect x="275.90" y="102.85" width="0.95" height="11.05" fill="#ffb4b4"/>
<rect x="276.80" y="102.85" width="3.75" height="11.05" fill="#ff3c3c"/>
<rect x="280.50" y="102.85" width="1.05" height="11.05" fill="#fff2ee"/>
<rect x="281.50" y="102.85" width="13.35" height="11.05" fill="#ff3c3c"/>
<rect x="119.50" y="113.85" width="2.85" height="12.40" fill="#ececff"/>
<rect x="122.30" y="113.85" width="3.35" height="12.40" fill="#a4a4ff"/>
<rect x="125.60" y="113.85" width="0.95" height="12.40" fill="#4242ff"/>
<rect x="126.50" y="113.85" width="2.35" height="12.40" fill="#6a6aff"/>
<rect x="128.80" y="113.85" width="6.15" height="12.40" fill="#4242ff"/>
<rect x="134.90" y="113.85" width="1.85" height="12.40" fill="#a4a4ff"/>
<rect x="136.70" y="113.85" width="1.95" height="12.40" fill="#ececff"/>
<rect x="138.60" y="113.85" width="1.45" height="12.40" fill="#ffb4b4"/>
<rect x="140.00" y="113.85" width="1.45" height="12.40" fill="#a4a4ff"/>
<rect x="141.40" y="113.85" width="2.75" height="12.40" fill="#4242ff"/>
<rect x="144.10" y="113.85" width="1.95" height="12.40" fill="#6a6aff"/>
<rect x="146.00" y="113.85" width="2.85" height="12.40" fill="#4242ff"/>
<rect x="148.80" y="113.85" width="1.85" height="12.40" fill="#6a6aff"/>
<rect x="150.60" y="113.85" width="10.35" height="12.40" fill="#4242ff"/>
<rect x="160.90" y="113.85" width="2.15" height="12.40" fill="#ececff"/>
<rect x="163.00" y="113.85" width="3.25" height="12.40" fill="#fff2ee"/>
<rect x="166.20" y="113.85" width="2.45" height="12.40" fill="#ff3c3c"/>
<rect x="168.60" y="113.85" width="1.85" height="12.40" fill="#ff7070"/>
<rect x="170.40" y="113.85" width="1.95" height="12.40" fill="#ff3c3c"/>
<rect x="172.30" y="113.85" width="1.85" height="12.40" fill="#ffb4b4"/>
<rect x="174.10" y="113.85" width="10.75" height="12.40" fill="#ff3c3c"/>
<rect x="184.80" y="113.85" width="1.95" height="12.40" fill="#ffb4b4"/>
<rect x="186.70" y="113.85" width="3.35" height="12.40" fill="#ff3c3c"/>
<rect x="190.00" y="113.85" width="0.95" height="12.40" fill="#ffb4b4"/>
<rect x="190.90" y="113.85" width="56.05" height="12.40" fill="#ff3c3c"/>
<rect x="246.90" y="113.85" width="1.35" height="12.40" fill="#ececff"/>
<rect x="248.20" y="113.85" width="10.15" height="12.40" fill="#ff3c3c"/>
<rect x="258.30" y="113.85" width="1.45" height="12.40" fill="#ff7070"/>
<rect x="259.70" y="113.85" width="3.35" height="12.40" fill="#fff2ee"/>
<rect x="263.00" y="113.85" width="7.35" height="12.40" fill="#ff3c3c"/>
<rect x="270.30" y="113.85" width="1.95" height="12.40" fill="#ffb4b4"/>
<rect x="272.20" y="113.85" width="4.65" height="12.40" fill="#ff3c3c"/>
<rect x="276.80" y="113.85" width="1.95" height="12.40" fill="#a4a4ff"/>
<rect x="278.70" y="113.85" width="1.85" height="12.40" fill="#ececff"/>
<rect x="280.50" y="113.85" width="3.85" height="12.40" fill="#ffb4b4"/>
<rect x="284.30" y="113.85" width="1.45" height="12.40" fill="#ececff"/>
<rect x="285.70" y="113.85" width="1.45" height="12.40" fill="#6a6aff"/>
<rect x="287.10" y="113.85" width="2.85" height="12.40" fill="#a4a4ff"/>
<rect x="289.90" y="113.85" width="1.85" height="12.40" fill="#6a6aff"/>
<rect x="291.70" y="113.85" width="3.15" height="12.40" fill="#ececff"/>
</g></g>
<polyline points="140.5,51 140.5,35.6 226.9,35.6 226.9,50.5" fill="none" stroke="#9a9a9a" stroke-width="0.7"/>
<polyline points="131.3,52.2 131.3,51 151.4,51 151.4,52.4" fill="none" stroke="#9a9a9a" stroke-width="0.7"/>
<polyline points="127.2,54.5 127.2,52.2 137,52.2 137,54" fill="none" stroke="#9a9a9a" stroke-width="0.7"/>
<polyline points="144,54 144,52.4 159.5,52.4 159.5,55.5" fill="none" stroke="#9a9a9a" stroke-width="0.7"/>
<polyline points="163.2,56.5 163.2,50.5 229.3,50.5 229.3,51.6" fill="none" stroke="#9a9a9a" stroke-width="0.7"/>
<polyline points="206.3,53.6 206.3,51.6 271,51.6 271,53.5" fill="none" stroke="#9a9a9a" stroke-width="0.7"/>
<polyline points="121.5,57.3 121.5,55.765964471937686 123.83287619482162,55.765964471937686 123.83287619482162,57.3" fill="none" stroke="#a8a8a8" stroke-width="0.45"/>
<polyline points="123.60986549964424,57.3 123.60986549964424,55.611131422194696 127.22358563473092,55.611131422194696 127.22358563473092,57.3" fill="none" stroke="#a8a8a8" stroke-width="0.45"/>
<polyline points="124.80645207736369,57.3 124.80645207736369,55.20880874401672 126.35254004780575,55.20880874401672 126.35254004780575,57.3" fill="none" stroke="#a8a8a8" stroke-width="0.45"/>
<polyline points="126.5845141203477,57.3 126.5845141203477,54.90827481253012 128.90467248401114,54.90827481253012 128.90467248401114,57.3" fill="none" stroke="#a8a8a8" stroke-width="0.45"/>
<polyline points="128.99530464291504,57.3 128.99530464291504,55.89492890347126 133.4229197223754,55.89492890347126 133.4229197223754,57.3" fill="none" stroke="#a8a8a8" stroke-width="0.45"/>
<polyline points="131.91250906454752,57.3 131.91250906454752,55.59376474925814 133.93966654862984,55.59376474925814 133.93966654862984,57.3" fill="none" stroke="#a8a8a8" stroke-width="0.45"/>
<polyline points="135.51664498597742,57.3 135.51664498597742,55.391621473217164 138.847779222319,55.391621473217164 138.847779222319,57.3" fill="none" stroke="#a8a8a8" stroke-width="0.45"/>
<polyline points="138.5308794120862,57.3 138.5308794120862,55.359362532055044 140.25498944588068,55.359362532055044 140.25498944588068,57.3" fill="none" stroke="#a8a8a8" stroke-width="0.45"/>
<polyline points="141.30417816088016,57.3 141.30417816088016,56.741077672207474 143.85861496918514,56.741077672207474 143.85861496918514,57.3" fill="none" stroke="#a8a8a8" stroke-width="0.45"/>
<polyline points="144.900759871817,57.3 144.900759871817,55.43423454427497 148.05538168214613,55.43423454427497 148.05538168214613,57.3" fill="none" stroke="#a8a8a8" stroke-width="0.45"/>
<polyline points="148.53719827258345,57.3 148.53719827258345,55.049912531590635 152.53665146522266,55.049912531590635 152.53665146522266,57.3" fill="none" stroke="#a8a8a8" stroke-width="0.45"/>
<polyline points="150.7220884845857,57.3 150.7220884845857,55.955219993503555 155.025269183034,55.955219993503555 155.025269183034,57.3" fill="none" stroke="#a8a8a8" stroke-width="0.45"/>
<polyline points="154.52884864969926,57.3 154.52884864969926,56.61483681151133 159.1048819608824,56.61483681151133 159.1048819608824,57.3" fill="none" stroke="#a8a8a8" stroke-width="0.45"/>
<polyline points="155.93675523030126,57.3 155.93675523030126,54.96558773609341 158.19620952461725,54.96558773609341 158.19620952461725,57.3" fill="none" stroke="#a8a8a8" stroke-width="0.45"/>
<polyline points="158.24524083018355,57.3 158.24524083018355,56.228050222991534 161.93850984821736,56.228050222991534 161.93850984821736,57.3" fill="none" stroke="#a8a8a8" stroke-width="0.45"/>
<polyline points="160.76696978167072,57.3 160.76696978167072,56.13327007133665 163.61750168762788,56.13327007133665 163.61750168762788,57.3" fill="none" stroke="#a8a8a8" stroke-width="0.45"/>
<polyline points="163.52219210388682,57.3 163.52219210388682,55.08201663538922 167.06707337928253,55.08201663538922 167.06707337928253,57.3" fill="none" stroke="#a8a8a8" stroke-width="0.45"/>
<polyline points="166.56813851379172,57.3 166.56813851379172,55.172838923846165 171.31944811799178,55.172838923846165 171.31944811799178,57.3" fill="none" stroke="#a8a8a8" stroke-width="0.45"/>
<polyline points="170.54110744839818,57.3 170.54110744839818,56.49011071825497 174.390564845967,56.49011071825497 174.390564845967,57.3" fill="none" stroke="#a8a8a8" stroke-width="0.45"/>
<polyline points="174.123020047747,57.3 174.123020047747,55.081077629426744 178.9992353633287,55.081077629426744 178.9992353633287,57.3" fill="none" stroke="#a8a8a8" stroke-width="0.45"/>
<polyline points="176.83034255816997,57.3 176.83034255816997,56.39886253101636 180.82870212877967,56.39886253101636 180.82870212877967,57.3" fill="none" stroke="#a8a8a8" stroke-width="0.45"/>
<polyline points="180.32516634899002,57.3 180.32516634899002,56.25858082222621 183.8325295822195,56.25858082222621 183.8325295822195,57.3" fill="none" stroke="#a8a8a8" stroke-width="0.45"/>
<polyline points="181.5155480804257,57.3 181.5155480804257,54.919368571648995 186.00434678990507,54.919368571648995 186.00434678990507,57.3" fill="none" stroke="#a8a8a8" stroke-width="0.45"/>
<polyline points="182.7811023597549,57.3 182.7811023597549,56.02012252804277 187.08318598415616,56.02012252804277 187.08318598415616,57.3" fill="none" stroke="#a8a8a8" stroke-width="0.45"/>
<polyline points="184.23339848311332,57.3 184.23339848311332,55.339295414173044 186.76201784698003,55.339295414173044 186.76201784698003,57.3" fill="none" stroke="#a8a8a8" stroke-width="0.45"/>
<polyline points="187.85169955699791,57.3 187.85169955699791,55.63238819578956 189.5063647709513,55.63238819578956 189.5063647709513,57.3" fill="none" stroke="#a8a8a8" stroke-width="0.45"/>
<polyline points="188.98652028748603,57.3 188.98652028748603,56.171187122563886 193.00106195855585,56.171187122563886 193.00106195855585,57.3" fill="none" stroke="#a8a8a8" stroke-width="0.45"/>
<polyline points="192.6292362092281,57.3 192.6292362092281,55.83970129006871 197.5614613581798,55.83970129006871 197.5614613581798,57.3" fill="none" stroke="#a8a8a8" stroke-width="0.45"/>
<polyline points="196.62476304535545,57.3 196.62476304535545,56.65375566105971 199.20860823252264,56.65375566105971 199.20860823252264,57.3" fill="none" stroke="#a8a8a8" stroke-width="0.45"/>
<polyline points="199.42405147174526,57.3 199.42405147174526,56.424968772786 201.03387363935886,56.424968772786 201.03387363935886,57.3" fill="none" stroke="#a8a8a8" stroke-width="0.45"/>
<polyline points="201.64785987859622,57.3 201.64785987859622,56.50322191707422 205.28449480898192,56.50322191707422 205.28449480898192,57.3" fill="none" stroke="#a8a8a8" stroke-width="0.45"/>
<polyline points="202.77516735275984,57.3 202.77516735275984,56.203722012159425 207.31239397150688,56.203722012159425 207.31239397150688,57.3" fill="none" stroke="#a8a8a8" stroke-width="0.45"/>
<polyline points="206.6511456319852,57.3 206.6511456319852,56.08220044511685 211.2894543769818,56.08220044511685 211.2894543769818,57.3" fill="none" stroke="#a8a8a8" stroke-width="0.45"/>
<polyline points="209.03237453052293,57.3 209.03237453052293,55.57661143506331 212.35262997659692,55.57661143506331 212.35262997659692,57.3" fill="none" stroke="#a8a8a8" stroke-width="0.45"/>
<polyline points="211.81932524572883,57.3 211.81932524572883,55.621760342654 215.2767389627827,55.621760342654 215.2767389627827,57.3" fill="none" stroke="#a8a8a8" stroke-width="0.45"/>
<polyline points="215.64118901200072,57.3 215.64118901200072,55.980736048481226 218.91578286781052,55.980736048481226 218.91578286781052,57.3" fill="none" stroke="#a8a8a8" stroke-width="0.45"/>
<polyline points="218.80212276843315,57.3 218.80212276843315,56.227934963769115 221.1338474365599,56.227934963769115 221.1338474365599,57.3" fill="none" stroke="#a8a8a8" stroke-width="0.45"/>
<polyline points="222.73551471777907,57.3 222.73551471777907,55.75798211139496 226.05946024426328,55.75798211139496 226.05946024426328,57.3" fill="none" stroke="#a8a8a8" stroke-width="0.45"/>
<polyline points="223.76988717687172,57.3 223.76988717687172,55.69806609378557 226.7231233801853,55.69806609378557 226.7231233801853,57.3" fill="none" stroke="#a8a8a8" stroke-width="0.45"/>
<polyline points="224.83004584778553,57.3 224.83004584778553,55.59885698293738 228.48533864235742,55.59885698293738 228.48533864235742,57.3" fill="none" stroke="#a8a8a8" stroke-width="0.45"/>
<polyline points="226.01028737966868,57.3 226.01028737966868,55.914124183576256 229.70598126120703,55.914124183576256 229.70598126120703,57.3" fill="none" stroke="#a8a8a8" stroke-width="0.45"/>
<polyline points="229.048131573783,57.3 229.048131573783,55.45679452620479 231.78215101442666,55.45679452620479 231.78215101442666,57.3" fill="none" stroke="#a8a8a8" stroke-width="0.45"/>
<polyline points="232.2622344415391,57.3 232.2622344415391,56.684904073072985 233.83987308300695,56.684904073072985 233.83987308300695,57.3" fill="none" stroke="#a8a8a8" stroke-width="0.45"/>
<polyline points="235.29029537000125,57.3 235.29029537000125,56.322867671451405 240.16186490135314,56.322867671451405 240.16186490135314,57.3" fill="none" stroke="#a8a8a8" stroke-width="0.45"/>
<polyline points="237.65923175891038,57.3 237.65923175891038,56.191951767078784 241.2335833237431,56.191951767078784 241.2335833237431,57.3" fill="none" stroke="#a8a8a8" stroke-width="0.45"/>
<polyline points="239.75109702693024,57.3 239.75109702693024,56.09860744697379 242.34544434111942,56.09860744697379 242.34544434111942,57.3" fill="none" stroke="#a8a8a8" stroke-width="0.45"/>
<polyline points="242.53796154450285,57.3 242.53796154450285,56.083395351475055 245.08937545128242,56.083395351475055 245.08937545128242,57.3" fill="none" stroke="#a8a8a8" stroke-width="0.45"/>
<polyline points="245.85478178183521,57.3 245.85478178183521,55.71840979606589 247.44900599936787,55.71840979606589 247.44900599936787,57.3" fill="none" stroke="#a8a8a8" stroke-width="0.45"/>
<polyline points="249.06030132687073,57.3 249.06030132687073,56.37717809869294 251.64535976080606,56.37717809869294 251.64535976080606,57.3" fill="none" stroke="#a8a8a8" stroke-width="0.45"/>
<polyline points="252.47172433805548,57.3 252.47172433805548,56.44395075225591 254.80715745719792,56.44395075225591 254.80715745719792,57.3" fill="none" stroke="#a8a8a8" stroke-width="0.45"/>
<polyline points="254.77742729965394,57.3 254.77742729965394,56.606500783999444 258.7206597230159,56.606500783999444 258.7206597230159,57.3" fill="none" stroke="#a8a8a8" stroke-width="0.45"/>
<polyline points="256.74332525351775,57.3 256.74332525351775,55.21627610604111 259.4114630300881,55.21627610604111 259.4114630300881,57.3" fill="none" stroke="#a8a8a8" stroke-width="0.45"/>
<polyline points="259.05861745120194,57.3 259.05861745120194,56.47835995814277 263.55299063014905,56.47835995814277 263.55299063014905,57.3" fill="none" stroke="#a8a8a8" stroke-width="0.45"/>
<polyline points="261.0687481563366,57.3 261.0687481563366,55.11869328334955 264.84456147336033,55.11869328334955 264.84456147336033,57.3" fill="none" stroke="#a8a8a8" stroke-width="0.45"/>
<polyline points="263.42205470919225,57.3 263.42205470919225,56.570253283050455 265.70965215872235,56.570253283050455 265.70965215872235,57.3" fill="none" stroke="#a8a8a8" stroke-width="0.45"/>
<polyline points="266.0109375941174,57.3 266.0109375941174,55.26712324851163 268.1787509145977,55.26712324851163 268.1787509145977,57.3" fill="none" stroke="#a8a8a8" stroke-width="0.45"/>
<polyline points="269.5263667312021,57.3 269.5263667312021,56.270674930168624 271.6689188277705,56.270674930168624 271.6689188277705,57.3" fill="none" stroke="#a8a8a8" stroke-width="0.45"/>
<polyline points="272.94804598570295,57.3 272.94804598570295,55.26811010184339 276.69482638344124,55.26811010184339 276.69482638344124,57.3" fill="none" stroke="#a8a8a8" stroke-width="0.45"/>
<polyline points="274.9838944003657,57.3 274.9838944003657,56.245308507345946 276.9378063826521,56.245308507345946 276.9378063826521,57.3" fill="none" stroke="#a8a8a8" stroke-width="0.45"/>
<polyline points="278.36548017381824,57.3 278.36548017381824,56.14192686673297 280.81459090251815,56.14192686673297 280.81459090251815,57.3" fill="none" stroke="#a8a8a8" stroke-width="0.45"/>
<polyline points="280.6161972614387,57.3 280.6161972614387,56.02190797874678 283.5853964047081,56.02190797874678 283.5853964047081,57.3" fill="none" stroke="#a8a8a8" stroke-width="0.45"/>
<polyline points="284.3780344104016,57.3 284.3780344104016,56.79114259029202 286.4240269166859,56.79114259029202 286.4240269166859,57.3" fill="none" stroke="#a8a8a8" stroke-width="0.45"/>
<polyline points="288.20783791815893,57.3 288.20783791815893,54.92486405544528 292.5,54.92486405544528 292.5,57.3" fill="none" stroke="#a8a8a8" stroke-width="0.45"/>
<polyline points="290.51089485618587,57.3 290.51089485618587,55.037983292618456 292.5,55.037983292618456 292.5,57.3" fill="none" stroke="#a8a8a8" stroke-width="0.45"/>
<line x1="121" y1="57.4" x2="293.3" y2="57.4" stroke="#555" stroke-width="0.8"/>
<text x="295.6" y="58.6" font-size="3" text-anchor="start" font-weight="normal" fill="#555">x</text>
<text x="295.6" y="127.2" font-size="3" text-anchor="start" font-weight="normal" fill="#555">x</text>
<text x="294.5" y="66.15" font-size="4.6" text-anchor="start" font-weight="normal" fill="#2a2a2a" textLength="24.5" lengthAdjust="spacingAndGlyphs" stroke="#2a2a2a" stroke-width="0.15">Vector_Ctrl_2</text>
<text x="294.5" y="77.05000000000001" font-size="4.6" text-anchor="start" font-weight="normal" fill="#2a2a2a" textLength="24.5" lengthAdjust="spacingAndGlyphs" stroke="#2a2a2a" stroke-width="0.15">Vector_Ctrl_1</text>
<text x="294.5" y="87.95" font-size="4.6" text-anchor="start" font-weight="normal" fill="#2a2a2a" textLength="24.5" lengthAdjust="spacingAndGlyphs" stroke="#2a2a2a" stroke-width="0.15">Vector_Ctrl_3</text>
<text x="294.5" y="99.05000000000001" font-size="4.6" text-anchor="start" font-weight="normal" fill="#2a2a2a" textLength="15.5" lengthAdjust="spacingAndGlyphs" stroke="#2a2a2a" stroke-width="0.15">CDK4_1</text>
<text x="294.5" y="109.85000000000001" font-size="4.6" text-anchor="start" font-weight="normal" fill="#2a2a2a" textLength="15.5" lengthAdjust="spacingAndGlyphs" stroke="#2a2a2a" stroke-width="0.15">CDK4_2</text>
<text x="294.5" y="120.65" font-size="4.6" text-anchor="start" font-weight="normal" fill="#2a2a2a" textLength="15.5" lengthAdjust="spacingAndGlyphs" stroke="#2a2a2a" stroke-width="0.15">CDK4_3</text>
<polyline points="321.3,64.5 332.2,64.5 332.2,80.7" fill="none" stroke="#aaa" stroke-width="0.8"/>
<polyline points="321.3,75.4 328.9,75.4 328.9,86 321.3,86" fill="none" stroke="#aaa" stroke-width="0.8"/>
<polyline points="328.9,80.7 332.2,80.7" fill="none" stroke="#aaa" stroke-width="0.8"/>
<polyline points="332.2,75.2 342.9,75.2 342.9,108.2 329.9,108.2" fill="none" stroke="#aaa" stroke-width="0.8"/>
<polyline points="321.3,97.2 329.9,97.2 329.9,113.4 327.5,113.4" fill="none" stroke="#aaa" stroke-width="0.8"/>
<polyline points="321.3,108.3 327.5,108.3 327.5,119.2 321.3,119.2" fill="none" stroke="#aaa" stroke-width="0.8"/>
<rect x="349" y="44.5" width="3.1" height="43.5" fill="url(#cb)"/>
<text transform="translate(348.3,44.4) rotate(-90)" font-size="2.6" text-anchor="middle" font-weight="normal" fill="#888" textLength="8.5" lengthAdjust="spacingAndGlyphs">2.5</text>
<text transform="translate(348.3,87.3) rotate(-90)" font-size="2.6" text-anchor="middle" font-weight="normal" fill="#888" textLength="8.0" lengthAdjust="spacingAndGlyphs">-2.5</text>
<text x="120.5" y="132.2" font-size="6.0" text-anchor="start" font-weight="normal" fill="#1a1a1a" textLength="100.7" lengthAdjust="spacingAndGlyphs" stroke="#1a1a1a" stroke-width="0.12">p-Value &lt; 0.05; Fold change &gt; 1.5 (±)</text>
<text x="433" y="29.2" font-size="7.0" text-anchor="middle" font-weight="normal" fill="#1a1a1a" textLength="91.2" lengthAdjust="spacingAndGlyphs" stroke="#1a1a1a" stroke-width="0.1">DEGs enriched for ChEA and</text>
<text x="433.4" y="37.8" font-size="7.0" text-anchor="middle" font-weight="normal" fill="#1a1a1a" textLength="79.8" lengthAdjust="spacingAndGlyphs" stroke="#1a1a1a" stroke-width="0.1">ENCODE consensus TFs</text>
<text x="389.2" y="52.6" font-size="5.0" text-anchor="start" font-weight="normal" fill="#1a1a1a" textLength="31.6" lengthAdjust="spacingAndGlyphs" stroke="#1a1a1a" stroke-width="0.08">GATA1_ChEA</text>
<text x="407.79999999999995" y="60.0" font-size="5.0" text-anchor="start" font-weight="normal" fill="#222" textLength="30.2" lengthAdjust="spacingAndGlyphs" stroke="#222" stroke-width="0.05">Gene Symbol</text>
<rect x="385.80" y="64.30" width="18.20" height="4.82" fill="#2a4a88"/>
<text x="407.79999999999995" y="68.50999999999999" font-size="5.15" text-anchor="start" font-weight="normal" fill="#2a2a2a" stroke="#2a2a2a" stroke-width="0.05">Slc40a1</text>
<rect x="386.90" y="71.02" width="17.10" height="4.82" fill="#2a4a88"/>
<text x="407.79999999999995" y="75.22999999999999" font-size="5.15" text-anchor="start" font-weight="normal" fill="#2a2a2a" stroke="#2a2a2a" stroke-width="0.05">Ltbp1</text>
<rect x="388.00" y="77.74" width="16.00" height="4.82" fill="#2a4a88"/>
<text x="407.79999999999995" y="81.94999999999999" font-size="5.15" text-anchor="start" font-weight="normal" fill="#2a2a2a" stroke="#2a2a2a" stroke-width="0.05">Rab3il1</text>
<rect x="389.00" y="84.46" width="15.00" height="4.82" fill="#2a4a88"/>
<text x="407.79999999999995" y="88.66999999999999" font-size="5.15" text-anchor="start" font-weight="normal" fill="#2a2a2a" stroke="#2a2a2a" stroke-width="0.05">Adam19</text>
<rect x="389.10" y="91.18" width="14.90" height="4.82" fill="#2a4a88"/>
<text x="407.79999999999995" y="95.38999999999999" font-size="5.15" text-anchor="start" font-weight="normal" fill="#2a2a2a" stroke="#2a2a2a" stroke-width="0.05">Cdh1</text>
<rect x="391.10" y="97.90" width="12.90" height="4.82" fill="#2a4a88"/>
<text x="407.79999999999995" y="102.11" font-size="5.15" text-anchor="start" font-weight="normal" fill="#2a2a2a" stroke="#2a2a2a" stroke-width="0.05">Pram1</text>
<rect x="392.20" y="104.62" width="11.80" height="4.82" fill="#2a4a88"/>
<text x="407.79999999999995" y="108.83" font-size="5.15" text-anchor="start" font-weight="normal" fill="#2a2a2a" stroke="#2a2a2a" stroke-width="0.05">Cebpe</text>
<rect x="393.30" y="111.34" width="10.70" height="4.82" fill="#2a4a88"/>
<text x="407.79999999999995" y="115.55" font-size="5.15" text-anchor="start" font-weight="normal" fill="#2a2a2a" stroke="#2a2a2a" stroke-width="0.05">Daglb</text>
<rect x="394.90" y="118.06" width="9.10" height="4.82" fill="#2a4a88"/>
<text x="407.79999999999995" y="122.27" font-size="5.15" text-anchor="start" font-weight="normal" fill="#2a2a2a" stroke="#2a2a2a" stroke-width="0.05">Tex2</text>
<rect x="395.90" y="124.78" width="8.10" height="4.82" fill="#2a4a88"/>
<text x="407.79999999999995" y="128.99" font-size="5.15" text-anchor="start" font-weight="normal" fill="#2a2a2a" stroke="#2a2a2a" stroke-width="0.05">Tiam1</text>
<rect x="396.80" y="131.50" width="7.20" height="4.82" fill="#2a4a88"/>
<text x="407.79999999999995" y="135.71" font-size="5.15" text-anchor="start" font-weight="normal" fill="#2a2a2a" stroke="#2a2a2a" stroke-width="0.05">Celf2</text>
<rect x="397.20" y="138.22" width="6.80" height="4.82" fill="#2a4a88"/>
<text x="407.79999999999995" y="142.43" font-size="5.15" text-anchor="start" font-weight="normal" fill="#2a2a2a" stroke="#2a2a2a" stroke-width="0.05">Cdc14a</text>
<rect x="397.60" y="144.94" width="6.40" height="4.82" fill="#2a4a88"/>
<text x="407.79999999999995" y="149.15" font-size="5.15" text-anchor="start" font-weight="normal" fill="#2a2a2a" stroke="#2a2a2a" stroke-width="0.05">Ubac2</text>
<rect x="397.90" y="151.66" width="6.10" height="4.82" fill="#2a4a88"/>
<text x="407.79999999999995" y="155.87" font-size="5.15" text-anchor="start" font-weight="normal" fill="#2a2a2a" stroke="#2a2a2a" stroke-width="0.05">Golim4</text>
<rect x="398.20" y="158.38" width="5.80" height="4.82" fill="#2a4a88"/>
<text x="407.79999999999995" y="162.59" font-size="5.15" text-anchor="start" font-weight="normal" fill="#2a2a2a" stroke="#2a2a2a" stroke-width="0.05">Fli1</text>
<rect x="398.40" y="165.10" width="5.60" height="4.82" fill="#2a4a88"/>
<text x="407.79999999999995" y="169.31" font-size="5.15" text-anchor="start" font-weight="normal" fill="#2a2a2a" stroke="#2a2a2a" stroke-width="0.05">Nrf1</text>
<rect x="399.20" y="171.82" width="4.80" height="4.82" fill="#2a4a88"/>
<text x="407.79999999999995" y="176.03" font-size="5.15" text-anchor="start" font-weight="normal" fill="#2a2a2a" stroke="#2a2a2a" stroke-width="0.05">Ikzf1</text>
<line x1="382.5" y1="63.3" x2="427.2" y2="63.3" stroke="#c9c9c9" stroke-width="0.7"/>
<line x1="382.5" y1="70.02" x2="427.2" y2="70.02" stroke="#c9c9c9" stroke-width="0.7"/>
<line x1="382.5" y1="76.74" x2="427.2" y2="76.74" stroke="#c9c9c9" stroke-width="0.7"/>
<line x1="382.5" y1="83.46" x2="427.2" y2="83.46" stroke="#c9c9c9" stroke-width="0.7"/>
<line x1="382.5" y1="90.17999999999999" x2="427.2" y2="90.17999999999999" stroke="#c9c9c9" stroke-width="0.7"/>
<line x1="382.5" y1="96.9" x2="427.2" y2="96.9" stroke="#c9c9c9" stroke-width="0.7"/>
<line x1="382.5" y1="103.62" x2="427.2" y2="103.62" stroke="#c9c9c9" stroke-width="0.7"/>
<line x1="382.5" y1="110.34" x2="427.2" y2="110.34" stroke="#c9c9c9" stroke-width="0.7"/>
<line x1="382.5" y1="117.06" x2="427.2" y2="117.06" stroke="#c9c9c9" stroke-width="0.7"/>
<line x1="382.5" y1="123.78" x2="427.2" y2="123.78" stroke="#c9c9c9" stroke-width="0.7"/>
<line x1="382.5" y1="130.5" x2="427.2" y2="130.5" stroke="#c9c9c9" stroke-width="0.7"/>
<line x1="382.5" y1="137.22" x2="427.2" y2="137.22" stroke="#c9c9c9" stroke-width="0.7"/>
<line x1="382.5" y1="143.94" x2="427.2" y2="143.94" stroke="#c9c9c9" stroke-width="0.7"/>
<line x1="382.5" y1="150.66" x2="427.2" y2="150.66" stroke="#c9c9c9" stroke-width="0.7"/>
<line x1="382.5" y1="157.38" x2="427.2" y2="157.38" stroke="#c9c9c9" stroke-width="0.7"/>
<line x1="382.5" y1="164.1" x2="427.2" y2="164.1" stroke="#c9c9c9" stroke-width="0.7"/>
<line x1="382.5" y1="170.82" x2="427.2" y2="170.82" stroke="#c9c9c9" stroke-width="0.7"/>
<line x1="382.5" y1="177.54" x2="427.2" y2="177.54" stroke="#c9c9c9" stroke-width="0.7"/>
<line x1="382.5" y1="63.3" x2="382.5" y2="177.54" stroke="#c9c9c9" stroke-width="0.7"/>
<line x1="427.2" y1="63.3" x2="427.2" y2="177.54" stroke="#c9c9c9" stroke-width="0.7"/>
<line x1="405.4" y1="63.3" x2="405.4" y2="177.54" stroke="#c9c9c9" stroke-width="0.7"/>
<text x="445.5" y="52.6" font-size="5.0" text-anchor="start" font-weight="normal" fill="#1a1a1a" textLength="31.6" lengthAdjust="spacingAndGlyphs" stroke="#1a1a1a" stroke-width="0.08">GATA2_ChEA</text>
<text x="460.79999999999995" y="60.0" font-size="5.0" text-anchor="start" font-weight="normal" fill="#222" textLength="30.2" lengthAdjust="spacingAndGlyphs" stroke="#222" stroke-width="0.05">Gene Symbol</text>
<rect x="444.10" y="64.30" width="12.80" height="4.82" fill="#2a4a88"/>
<text x="460.79999999999995" y="68.50999999999999" font-size="5.15" text-anchor="start" font-weight="normal" fill="#2a2a2a" stroke="#2a2a2a" stroke-width="0.05">Cebpe</text>
<rect x="444.90" y="71.02" width="12.00" height="4.82" fill="#2a4a88"/>
<text x="460.79999999999995" y="75.22999999999999" font-size="5.15" text-anchor="start" font-weight="normal" fill="#2a2a2a" stroke="#2a2a2a" stroke-width="0.05">Mgll</text>
<rect x="445.90" y="77.74" width="11.00" height="4.82" fill="#2a4a88"/>
<text x="460.79999999999995" y="81.94999999999999" font-size="5.15" text-anchor="start" font-weight="normal" fill="#2a2a2a" stroke="#2a2a2a" stroke-width="0.05">Dhcr24</text>
<rect x="445.90" y="84.46" width="11.00" height="4.82" fill="#2a4a88"/>
<text x="460.79999999999995" y="88.66999999999999" font-size="5.15" text-anchor="start" font-weight="normal" fill="#2a2a2a" stroke="#2a2a2a" stroke-width="0.05">Ptgs1</text>
<rect x="447.00" y="91.18" width="9.90" height="4.82" fill="#2a4a88"/>
<text x="460.79999999999995" y="95.38999999999999" font-size="5.15" text-anchor="start" font-weight="normal" fill="#2a2a2a" stroke="#2a2a2a" stroke-width="0.05">Tex2</text>
<rect x="448.90" y="97.90" width="8.00" height="4.82" fill="#2a4a88"/>
<text x="460.79999999999995" y="102.11" font-size="5.15" text-anchor="start" font-weight="normal" fill="#2a2a2a" stroke="#2a2a2a" stroke-width="0.05">Mbnl1</text>
<rect x="449.30" y="104.62" width="7.60" height="4.82" fill="#2a4a88"/>
<text x="460.79999999999995" y="108.83" font-size="5.15" text-anchor="start" font-weight="normal" fill="#2a2a2a" stroke="#2a2a2a" stroke-width="0.05">Cdc14a</text>
<rect x="450.00" y="111.34" width="6.90" height="4.82" fill="#2a4a88"/>
<text x="460.79999999999995" y="115.55" font-size="5.15" text-anchor="start" font-weight="normal" fill="#2a2a2a" stroke="#2a2a2a" stroke-width="0.05">Dock5</text>
<rect x="450.30" y="118.06" width="6.60" height="4.82" fill="#2a4a88"/>
<text x="460.79999999999995" y="122.27" font-size="5.15" text-anchor="start" font-weight="normal" fill="#2a2a2a" stroke="#2a2a2a" stroke-width="0.05">Fli1</text>
<rect x="450.30" y="124.78" width="6.60" height="4.82" fill="#2a4a88"/>
<text x="460.79999999999995" y="128.99" font-size="5.15" text-anchor="start" font-weight="normal" fill="#2a2a2a" stroke="#2a2a2a" stroke-width="0.05">Mapkapk3</text>
<rect x="450.30" y="131.50" width="6.60" height="4.82" fill="#2a4a88"/>
<text x="460.79999999999995" y="135.71" font-size="5.15" text-anchor="start" font-weight="normal" fill="#2a2a2a" stroke="#2a2a2a" stroke-width="0.05">C1galt1</text>
<rect x="450.50" y="138.22" width="6.40" height="4.82" fill="#2a4a88"/>
<text x="460.79999999999995" y="142.43" font-size="5.15" text-anchor="start" font-weight="normal" fill="#2a2a2a" stroke="#2a2a2a" stroke-width="0.05">Mapre2</text>
<rect x="450.80" y="144.94" width="6.10" height="4.82" fill="#2a4a88"/>
<text x="460.79999999999995" y="149.15" font-size="5.15" text-anchor="start" font-weight="normal" fill="#2a2a2a" stroke="#2a2a2a" stroke-width="0.05">Taok3</text>
<rect x="451.80" y="151.66" width="5.10" height="4.82" fill="#2a4a88"/>
<text x="460.79999999999995" y="155.87" font-size="5.15" text-anchor="start" font-weight="normal" fill="#2a2a2a" stroke="#2a2a2a" stroke-width="0.05">Ikzf1</text>
<line x1="436.7" y1="63.3" x2="486.9" y2="63.3" stroke="#c9c9c9" stroke-width="0.7"/>
<line x1="436.7" y1="70.02" x2="486.9" y2="70.02" stroke="#c9c9c9" stroke-width="0.7"/>
<line x1="436.7" y1="76.74" x2="486.9" y2="76.74" stroke="#c9c9c9" stroke-width="0.7"/>
<line x1="436.7" y1="83.46" x2="486.9" y2="83.46" stroke="#c9c9c9" stroke-width="0.7"/>
<line x1="436.7" y1="90.17999999999999" x2="486.9" y2="90.17999999999999" stroke="#c9c9c9" stroke-width="0.7"/>
<line x1="436.7" y1="96.9" x2="486.9" y2="96.9" stroke="#c9c9c9" stroke-width="0.7"/>
<line x1="436.7" y1="103.62" x2="486.9" y2="103.62" stroke="#c9c9c9" stroke-width="0.7"/>
<line x1="436.7" y1="110.34" x2="486.9" y2="110.34" stroke="#c9c9c9" stroke-width="0.7"/>
<line x1="436.7" y1="117.06" x2="486.9" y2="117.06" stroke="#c9c9c9" stroke-width="0.7"/>
<line x1="436.7" y1="123.78" x2="486.9" y2="123.78" stroke="#c9c9c9" stroke-width="0.7"/>
<line x1="436.7" y1="130.5" x2="486.9" y2="130.5" stroke="#c9c9c9" stroke-width="0.7"/>
<line x1="436.7" y1="137.22" x2="486.9" y2="137.22" stroke="#c9c9c9" stroke-width="0.7"/>
<line x1="436.7" y1="143.94" x2="486.9" y2="143.94" stroke="#c9c9c9" stroke-width="0.7"/>
<line x1="436.7" y1="150.66" x2="486.9" y2="150.66" stroke="#c9c9c9" stroke-width="0.7"/>
<line x1="436.7" y1="157.38" x2="486.9" y2="157.38" stroke="#c9c9c9" stroke-width="0.7"/>
<line x1="436.7" y1="63.3" x2="436.7" y2="157.38" stroke="#c9c9c9" stroke-width="0.7"/>
<line x1="486.9" y1="63.3" x2="486.9" y2="157.38" stroke="#c9c9c9" stroke-width="0.7"/>
<line x1="458.4" y1="63.3" x2="458.4" y2="157.38" stroke="#c9c9c9" stroke-width="0.7"/>
<line x1="379.7" y1="181" x2="406.6" y2="181" stroke="#111" stroke-width="1.1"/>
<line x1="382.4" y1="181" x2="382.4" y2="182.3" stroke="#111" stroke-width="0.9"/>
<line x1="404" y1="181" x2="404" y2="182.3" stroke="#111" stroke-width="0.9"/>
<text x="382.4" y="191.7" font-size="5.4" text-anchor="middle" font-weight="normal" fill="#444">-1.5</text>
<text x="404" y="191.7" font-size="5.4" text-anchor="middle" font-weight="normal" fill="#444">0</text>
<text x="393.5" y="200.6" font-size="7.0" text-anchor="middle" font-weight="normal" fill="#1a1a1a" textLength="20.6" lengthAdjust="spacingAndGlyphs" stroke="#1a1a1a" stroke-width="0.15">Log2 fold</text>
<text x="393.5" y="209.1" font-size="7.0" text-anchor="middle" font-weight="normal" fill="#1a1a1a" textLength="17" lengthAdjust="spacingAndGlyphs" stroke="#1a1a1a" stroke-width="0.15">change</text>
<line x1="433.1" y1="161" x2="459.3" y2="161" stroke="#111" stroke-width="1.1"/>
<line x1="436.2" y1="161" x2="436.2" y2="162.3" stroke="#111" stroke-width="0.9"/>
<line x1="456.7" y1="161" x2="456.7" y2="162.3" stroke="#111" stroke-width="0.9"/>
<text x="436.2" y="171.7" font-size="5.4" text-anchor="middle" font-weight="normal" fill="#444">-1.5</text>
<text x="456.7" y="171.7" font-size="5.4" text-anchor="middle" font-weight="normal" fill="#444">0</text>
<text x="446.75" y="180.3" font-size="7.0" text-anchor="middle" font-weight="normal" fill="#1a1a1a" textLength="20.6" lengthAdjust="spacingAndGlyphs" stroke="#1a1a1a" stroke-width="0.15">Log2 fold</text>
<text x="446.75" y="188.8" font-size="7.0" text-anchor="middle" font-weight="normal" fill="#1a1a1a" textLength="17" lengthAdjust="spacingAndGlyphs" stroke="#1a1a1a" stroke-width="0.15">change</text>
<rect x="20.10" y="185.00" width="53.40" height="77.50" fill="#c3c9d9"/>
<rect x="73.50" y="185.00" width="55.90" height="79.20" fill="#c3c9d9"/>
<rect x="114.30" y="187.55" width="15.10" height="6.70" fill="#b9d99e"/>
<line x1="71.3" y1="190.9" x2="73.5" y2="190.9" stroke="#111" stroke-width="0.9"/>
<text x="67.3" y="192.73600000000002" font-size="5.1" text-anchor="end" font-weight="normal" fill="#222" stroke="#222" stroke-width="0.08">CTCF_ENCODE</text>
<rect x="111.90" y="198.65" width="17.50" height="6.70" fill="#b3bf8b"/>
<line x1="71.3" y1="202.0" x2="73.5" y2="202.0" stroke="#111" stroke-width="0.9"/>
<text x="67.3" y="203.836" font-size="5.1" text-anchor="end" font-weight="normal" fill="#222" stroke="#222" stroke-width="0.08">NFE2L2_CHEA</text>
<rect x="111.90" y="209.75" width="17.50" height="6.70" fill="#dc559a"/>
<line x1="71.3" y1="213.1" x2="73.5" y2="213.1" stroke="#111" stroke-width="0.9"/>
<text x="67.3" y="214.936" font-size="5.1" text-anchor="end" font-weight="normal" fill="#222" stroke="#222" stroke-width="0.08">SMC3_ENCODE</text>
<rect x="111.90" y="220.85" width="17.50" height="6.70" fill="#e3901d"/>
<line x1="71.3" y1="224.2" x2="73.5" y2="224.2" stroke="#111" stroke-width="0.9"/>
<text x="67.3" y="226.036" font-size="5.1" text-anchor="end" font-weight="normal" fill="#222" stroke="#222" stroke-width="0.08">RAD21_ENCODE</text>
<rect x="111.90" y="231.95" width="17.50" height="6.70" fill="#2d4c8a"/>
<line x1="71.3" y1="235.3" x2="73.5" y2="235.3" stroke="#111" stroke-width="0.9"/>
<text x="67.3" y="237.13600000000002" font-size="5.1" text-anchor="end" font-weight="normal" fill="#222" stroke="#222" stroke-width="0.08">GATA2_CHEA</text>
<rect x="111.90" y="243.05" width="17.50" height="6.70" fill="#326b4d"/>
<line x1="71.3" y1="246.4" x2="73.5" y2="246.4" stroke="#111" stroke-width="0.9"/>
<text x="67.3" y="248.23600000000002" font-size="5.1" text-anchor="end" font-weight="normal" fill="#222" stroke="#222" stroke-width="0.08">SPI1_CHEA</text>
<rect x="106.70" y="254.25" width="22.70" height="6.70" fill="#6ab143"/>
<line x1="71.3" y1="257.6" x2="73.5" y2="257.6" stroke="#111" stroke-width="0.9"/>
<text x="67.3" y="259.43600000000004" font-size="5.1" text-anchor="end" font-weight="normal" fill="#222" stroke="#222" stroke-width="0.08">GATA1_CHEA</text>
<line x1="73.5" y1="184.7" x2="73.5" y2="264.8" stroke="#111" stroke-width="1.2"/>
<line x1="129.4" y1="184.7" x2="129.4" y2="264.8" stroke="#111" stroke-width="1.2"/>
<line x1="72.9" y1="264.2" x2="130.0" y2="264.2" stroke="#111" stroke-width="1.2"/>
<line x1="73.5" y1="264.2" x2="73.5" y2="266.09999999999997" stroke="#111" stroke-width="0.9"/>
<line x1="77.71441993929574" y1="264.2" x2="77.71441993929574" y2="265.2" stroke="#111" stroke-width="0.6"/>
<line x1="80.17969756607528" y1="264.2" x2="80.17969756607528" y2="265.2" stroke="#111" stroke-width="0.6"/>
<line x1="81.92883987859148" y1="264.2" x2="81.92883987859148" y2="265.2" stroke="#111" stroke-width="0.6"/>
<line x1="83.28558006070426" y1="264.2" x2="83.28558006070426" y2="265.2" stroke="#111" stroke-width="0.6"/>
<line x1="84.39411750537101" y1="264.2" x2="84.39411750537101" y2="265.2" stroke="#111" stroke-width="0.6"/>
<line x1="85.3313725601996" y1="264.2" x2="85.3313725601996" y2="265.2" stroke="#111" stroke-width="0.6"/>
<line x1="86.14325981788721" y1="264.2" x2="86.14325981788721" y2="265.2" stroke="#111" stroke-width="0.6"/>
<line x1="86.85939513215055" y1="264.2" x2="86.85939513215055" y2="265.2" stroke="#111" stroke-width="0.6"/>
<line x1="87.5" y1="264.2" x2="87.5" y2="266.09999999999997" stroke="#111" stroke-width="0.9"/>
<line x1="91.71441993929574" y1="264.2" x2="91.71441993929574" y2="265.2" stroke="#111" stroke-width="0.6"/>
<line x1="94.17969756607528" y1="264.2" x2="94.17969756607528" y2="265.2" stroke="#111" stroke-width="0.6"/>
<line x1="95.92883987859148" y1="264.2" x2="95.92883987859148" y2="265.2" stroke="#111" stroke-width="0.6"/>
<line x1="97.28558006070426" y1="264.2" x2="97.28558006070426" y2="265.2" stroke="#111" stroke-width="0.6"/>
<line x1="98.39411750537101" y1="264.2" x2="98.39411750537101" y2="265.2" stroke="#111" stroke-width="0.6"/>
<line x1="99.3313725601996" y1="264.2" x2="99.3313725601996" y2="265.2" stroke="#111" stroke-width="0.6"/>
<line x1="100.14325981788721" y1="264.2" x2="100.14325981788721" y2="265.2" stroke="#111" stroke-width="0.6"/>
<line x1="100.85939513215055" y1="264.2" x2="100.85939513215055" y2="265.2" stroke="#111" stroke-width="0.6"/>
<line x1="101.5" y1="264.2" x2="101.5" y2="266.09999999999997" stroke="#111" stroke-width="0.9"/>
<line x1="105.68431693972934" y1="264.2" x2="105.68431693972934" y2="265.2" stroke="#111" stroke-width="0.6"/>
<line x1="108.13198544060332" y1="264.2" x2="108.13198544060332" y2="265.2" stroke="#111" stroke-width="0.6"/>
<line x1="109.86863387945868" y1="264.2" x2="109.86863387945868" y2="265.2" stroke="#111" stroke-width="0.6"/>
<line x1="111.21568306027066" y1="264.2" x2="111.21568306027066" y2="265.2" stroke="#111" stroke-width="0.6"/>
<line x1="112.31630238033264" y1="264.2" x2="112.31630238033264" y2="265.2" stroke="#111" stroke-width="0.6"/>
<line x1="113.24686275619817" y1="264.2" x2="113.24686275619817" y2="265.2" stroke="#111" stroke-width="0.6"/>
<line x1="114.05295081918803" y1="264.2" x2="114.05295081918803" y2="265.2" stroke="#111" stroke-width="0.6"/>
<line x1="114.76397088120662" y1="264.2" x2="114.76397088120662" y2="265.2" stroke="#111" stroke-width="0.6"/>
<line x1="115.4" y1="264.2" x2="115.4" y2="266.09999999999997" stroke="#111" stroke-width="0.9"/>
<line x1="119.61441993929574" y1="264.2" x2="119.61441993929574" y2="265.2" stroke="#111" stroke-width="0.6"/>
<line x1="122.07969756607528" y1="264.2" x2="122.07969756607528" y2="265.2" stroke="#111" stroke-width="0.6"/>
<line x1="123.82883987859148" y1="264.2" x2="123.82883987859148" y2="265.2" stroke="#111" stroke-width="0.6"/>
<line x1="125.18558006070427" y1="264.2" x2="125.18558006070427" y2="265.2" stroke="#111" stroke-width="0.6"/>
<line x1="126.29411750537102" y1="264.2" x2="126.29411750537102" y2="265.2" stroke="#111" stroke-width="0.6"/>
<line x1="127.2313725601996" y1="264.2" x2="127.2313725601996" y2="265.2" stroke="#111" stroke-width="0.6"/>
<line x1="128.04325981788722" y1="264.2" x2="128.04325981788722" y2="265.2" stroke="#111" stroke-width="0.6"/>
<line x1="128.75939513215056" y1="264.2" x2="128.75939513215056" y2="265.2" stroke="#111" stroke-width="0.6"/>
<line x1="129.4" y1="264.2" x2="129.4" y2="266.09999999999997" stroke="#111" stroke-width="0.9"/>
<text transform="translate(76.5,273.7) rotate(-45)" font-size="5.3" text-anchor="end" font-weight="normal" fill="#1a1a1a" textLength="15.07" lengthAdjust="spacingAndGlyphs" stroke="#1a1a1a" stroke-width="0.15">0.0001</text>
<text transform="translate(90.5,273.7) rotate(-45)" font-size="5.3" text-anchor="end" font-weight="normal" fill="#1a1a1a" textLength="12.33" lengthAdjust="spacingAndGlyphs" stroke="#1a1a1a" stroke-width="0.15">0.001</text>
<text transform="translate(104.5,273.7) rotate(-45)" font-size="5.3" text-anchor="end" font-weight="normal" fill="#1a1a1a" textLength="9.59" lengthAdjust="spacingAndGlyphs" stroke="#1a1a1a" stroke-width="0.15">0.01</text>
<text transform="translate(118.4,273.7) rotate(-45)" font-size="5.3" text-anchor="end" font-weight="normal" fill="#1a1a1a" textLength="6.85" lengthAdjust="spacingAndGlyphs" stroke="#1a1a1a" stroke-width="0.15">0.1</text>
<text transform="translate(132.4,273.7) rotate(-45)" font-size="5.3" text-anchor="end" font-weight="normal" fill="#1a1a1a" textLength="2.74" lengthAdjust="spacingAndGlyphs" stroke="#1a1a1a" stroke-width="0.15">1</text>
<text x="101.5" y="289.2" font-size="7.6" text-anchor="middle" font-weight="normal" fill="#1a1a1a" textLength="9.9" lengthAdjust="spacingAndGlyphs" stroke="#1a1a1a" stroke-width="0.25">FDR</text>
<text transform="translate(138.5,223.7) rotate(-90)" font-size="5.9" text-anchor="middle" font-weight="normal" fill="#1a1a1a" textLength="47.2" lengthAdjust="spacingAndGlyphs" stroke="#1a1a1a" stroke-width="0.35">Downregulated DEGs</text>
<rect x="20.10" y="300.80" width="53.40" height="22.40" fill="#e5b4c1"/>
<rect x="73.50" y="300.80" width="55.90" height="23.10" fill="#e5b4c1"/>
<rect x="98.20" y="303.55" width="31.20" height="6.90" fill="#cf0a7c"/>
<line x1="71.3" y1="307.0" x2="73.5" y2="307.0" stroke="#111" stroke-width="0.9"/>
<text x="67.3" y="308.836" font-size="5.1" text-anchor="end" font-weight="normal" fill="#222" stroke="#222" stroke-width="0.08">RELA_ENCODE</text>
<rect x="83.80" y="314.25" width="45.60" height="6.90" fill="#a9651d"/>
<line x1="71.3" y1="317.7" x2="73.5" y2="317.7" stroke="#111" stroke-width="0.9"/>
<text x="67.3" y="319.536" font-size="5.1" text-anchor="end" font-weight="normal" fill="#222" stroke="#222" stroke-width="0.08">TP53_CHEA</text>
<line x1="73.5" y1="300.5" x2="73.5" y2="324.5" stroke="#111" stroke-width="1.2"/>
<line x1="129.4" y1="300.5" x2="129.4" y2="324.5" stroke="#111" stroke-width="1.2"/>
<line x1="72.9" y1="323.9" x2="130.0" y2="323.9" stroke="#111" stroke-width="1.2"/>
<line x1="73.5" y1="323.9" x2="73.5" y2="325.79999999999995" stroke="#111" stroke-width="0.9"/>
<line x1="77.71441993929574" y1="323.9" x2="77.71441993929574" y2="324.9" stroke="#111" stroke-width="0.6"/>
<line x1="80.17969756607528" y1="323.9" x2="80.17969756607528" y2="324.9" stroke="#111" stroke-width="0.6"/>
<line x1="81.92883987859148" y1="323.9" x2="81.92883987859148" y2="324.9" stroke="#111" stroke-width="0.6"/>
<line x1="83.28558006070426" y1="323.9" x2="83.28558006070426" y2="324.9" stroke="#111" stroke-width="0.6"/>
<line x1="84.39411750537101" y1="323.9" x2="84.39411750537101" y2="324.9" stroke="#111" stroke-width="0.6"/>
<line x1="85.3313725601996" y1="323.9" x2="85.3313725601996" y2="324.9" stroke="#111" stroke-width="0.6"/>
<line x1="86.14325981788721" y1="323.9" x2="86.14325981788721" y2="324.9" stroke="#111" stroke-width="0.6"/>
<line x1="86.85939513215055" y1="323.9" x2="86.85939513215055" y2="324.9" stroke="#111" stroke-width="0.6"/>
<line x1="87.5" y1="323.9" x2="87.5" y2="325.79999999999995" stroke="#111" stroke-width="0.9"/>
<line x1="91.71441993929574" y1="323.9" x2="91.71441993929574" y2="324.9" stroke="#111" stroke-width="0.6"/>
<line x1="94.17969756607528" y1="323.9" x2="94.17969756607528" y2="324.9" stroke="#111" stroke-width="0.6"/>
<line x1="95.92883987859148" y1="323.9" x2="95.92883987859148" y2="324.9" stroke="#111" stroke-width="0.6"/>
<line x1="97.28558006070426" y1="323.9" x2="97.28558006070426" y2="324.9" stroke="#111" stroke-width="0.6"/>
<line x1="98.39411750537101" y1="323.9" x2="98.39411750537101" y2="324.9" stroke="#111" stroke-width="0.6"/>
<line x1="99.3313725601996" y1="323.9" x2="99.3313725601996" y2="324.9" stroke="#111" stroke-width="0.6"/>
<line x1="100.14325981788721" y1="323.9" x2="100.14325981788721" y2="324.9" stroke="#111" stroke-width="0.6"/>
<line x1="100.85939513215055" y1="323.9" x2="100.85939513215055" y2="324.9" stroke="#111" stroke-width="0.6"/>
<line x1="101.5" y1="323.9" x2="101.5" y2="325.79999999999995" stroke="#111" stroke-width="0.9"/>
<line x1="105.68431693972934" y1="323.9" x2="105.68431693972934" y2="324.9" stroke="#111" stroke-width="0.6"/>
<line x1="108.13198544060332" y1="323.9" x2="108.13198544060332" y2="324.9" stroke="#111" stroke-width="0.6"/>
<line x1="109.86863387945868" y1="323.9" x2="109.86863387945868" y2="324.9" stroke="#111" stroke-width="0.6"/>
<line x1="111.21568306027066" y1="323.9" x2="111.21568306027066" y2="324.9" stroke="#111" stroke-width="0.6"/>
<line x1="112.31630238033264" y1="323.9" x2="112.31630238033264" y2="324.9" stroke="#111" stroke-width="0.6"/>
<line x1="113.24686275619817" y1="323.9" x2="113.24686275619817" y2="324.9" stroke="#111" stroke-width="0.6"/>
<line x1="114.05295081918803" y1="323.9" x2="114.05295081918803" y2="324.9" stroke="#111" stroke-width="0.6"/>
<line x1="114.76397088120662" y1="323.9" x2="114.76397088120662" y2="324.9" stroke="#111" stroke-width="0.6"/>
<line x1="115.4" y1="323.9" x2="115.4" y2="325.79999999999995" stroke="#111" stroke-width="0.9"/>
<line x1="119.61441993929574" y1="323.9" x2="119.61441993929574" y2="324.9" stroke="#111" stroke-width="0.6"/>
<line x1="122.07969756607528" y1="323.9" x2="122.07969756607528" y2="324.9" stroke="#111" stroke-width="0.6"/>
<line x1="123.82883987859148" y1="323.9" x2="123.82883987859148" y2="324.9" stroke="#111" stroke-width="0.6"/>
<line x1="125.18558006070427" y1="323.9" x2="125.18558006070427" y2="324.9" stroke="#111" stroke-width="0.6"/>
<line x1="126.29411750537102" y1="323.9" x2="126.29411750537102" y2="324.9" stroke="#111" stroke-width="0.6"/>
<line x1="127.2313725601996" y1="323.9" x2="127.2313725601996" y2="324.9" stroke="#111" stroke-width="0.6"/>
<line x1="128.04325981788722" y1="323.9" x2="128.04325981788722" y2="324.9" stroke="#111" stroke-width="0.6"/>
<line x1="128.75939513215056" y1="323.9" x2="128.75939513215056" y2="324.9" stroke="#111" stroke-width="0.6"/>
<line x1="129.4" y1="323.9" x2="129.4" y2="325.79999999999995" stroke="#111" stroke-width="0.9"/>
<text transform="translate(76.5,333.4) rotate(-45)" font-size="5.3" text-anchor="end" font-weight="normal" fill="#1a1a1a" textLength="15.07" lengthAdjust="spacingAndGlyphs" stroke="#1a1a1a" stroke-width="0.15">0.0001</text>
<text transform="translate(90.5,333.4) rotate(-45)" font-size="5.3" text-anchor="end" font-weight="normal" fill="#1a1a1a" textLength="12.33" lengthAdjust="spacingAndGlyphs" stroke="#1a1a1a" stroke-width="0.15">0.001</text>
<text transform="translate(104.5,333.4) rotate(-45)" font-size="5.3" text-anchor="end" font-weight="normal" fill="#1a1a1a" textLength="9.59" lengthAdjust="spacingAndGlyphs" stroke="#1a1a1a" stroke-width="0.15">0.01</text>
<text transform="translate(118.4,333.4) rotate(-45)" font-size="5.3" text-anchor="end" font-weight="normal" fill="#1a1a1a" textLength="6.85" lengthAdjust="spacingAndGlyphs" stroke="#1a1a1a" stroke-width="0.15">0.1</text>
<text transform="translate(132.4,333.4) rotate(-45)" font-size="5.3" text-anchor="end" font-weight="normal" fill="#1a1a1a" textLength="2.74" lengthAdjust="spacingAndGlyphs" stroke="#1a1a1a" stroke-width="0.15">1</text>
<text x="101.5" y="349.4" font-size="7.6" text-anchor="middle" font-weight="normal" fill="#1a1a1a" textLength="9.9" lengthAdjust="spacingAndGlyphs" stroke="#1a1a1a" stroke-width="0.25">FDR</text>
<text transform="translate(137.8,312.3) rotate(-90)" font-size="5.9" text-anchor="middle" font-weight="normal" fill="#1a1a1a" textLength="26.7" lengthAdjust="spacingAndGlyphs" stroke="#1a1a1a" stroke-width="0.35">Upregulated</text>
<text transform="translate(148.6,311.9) rotate(-90)" font-size="5.9" text-anchor="middle" font-weight="normal" fill="#1a1a1a" textLength="11.6" lengthAdjust="spacingAndGlyphs" stroke="#1a1a1a" stroke-width="0.35">DEGs</text>
<text transform="translate(15.1,253.8) rotate(-90)" font-size="6.3" text-anchor="middle" font-weight="normal" fill="#1a1a1a" textLength="118.8" lengthAdjust="spacingAndGlyphs" stroke="#1a1a1a" stroke-width="0.35">DEGs enriched for ChEA and ENCODE consensus TFs</text>
<rect x="176.90" y="184.80" width="85.60" height="46.00" fill="#c3c9d9"/>
<rect x="262.50" y="184.80" width="38.80" height="46.80" fill="#c3c9d9"/>
<rect x="291.30" y="186.40" width="10.00" height="4.40" fill="#bccb95"/>
<line x1="260.3" y1="188.6" x2="262.5" y2="188.6" stroke="#111" stroke-width="0.9"/>
<text x="256.6" y="190.436" font-size="5.1" text-anchor="end" font-weight="normal" fill="#222" stroke="#222" stroke-width="0.08">TBK1.DF_DN</text>
<rect x="288.10" y="194.15" width="13.20" height="4.40" fill="#dc559a"/>
<line x1="260.3" y1="196.35" x2="262.5" y2="196.35" stroke="#111" stroke-width="0.9"/>
<text x="256.6" y="198.186" font-size="5.1" text-anchor="end" font-weight="normal" fill="#222" stroke="#222" stroke-width="0.08">RPS14_DN.V1_UP</text>
<rect x="282.90" y="201.90" width="18.40" height="4.40" fill="#e3901d"/>
<line x1="260.3" y1="204.1" x2="262.5" y2="204.1" stroke="#111" stroke-width="0.9"/>
<text x="256.6" y="205.936" font-size="5.1" text-anchor="end" font-weight="normal" fill="#222" stroke="#222" stroke-width="0.08">STK33_NOMO_UP</text>
<rect x="282.90" y="209.65" width="18.40" height="4.40" fill="#2d4c8a"/>
<line x1="260.3" y1="211.85" x2="262.5" y2="211.85" stroke="#111" stroke-width="0.9"/>
<text x="256.6" y="213.686" font-size="5.1" text-anchor="end" font-weight="normal" fill="#222" stroke="#222" stroke-width="0.08">STK33_UP</text>
<rect x="282.90" y="217.40" width="18.40" height="4.40" fill="#326b4d"/>
<line x1="260.3" y1="219.6" x2="262.5" y2="219.6" stroke="#111" stroke-width="0.9"/>
<text x="256.6" y="221.436" font-size="5.1" text-anchor="end" font-weight="normal" fill="#222" stroke="#222" stroke-width="0.08">KRAS.DF.V1_DN</text>
<rect x="282.90" y="225.15" width="18.40" height="4.40" fill="#6ab143"/>
<line x1="260.3" y1="227.35" x2="262.5" y2="227.35" stroke="#111" stroke-width="0.9"/>
<text x="256.6" y="229.186" font-size="5.1" text-anchor="end" font-weight="normal" fill="#222" stroke="#222" stroke-width="0.08">STK33_SKM_UP</text>
<line x1="262.5" y1="184.5" x2="262.5" y2="232.2" stroke="#111" stroke-width="1.2"/>
<line x1="301.3" y1="184.5" x2="301.3" y2="232.2" stroke="#111" stroke-width="1.2"/>
<line x1="261.9" y1="231.6" x2="301.90000000000003" y2="231.6" stroke="#111" stroke-width="1.2"/>
<line x1="262.5" y1="231.6" x2="262.5" y2="233.5" stroke="#111" stroke-width="0.9"/>
<line x1="265.4199909579406" y1="231.6" x2="265.4199909579406" y2="232.6" stroke="#111" stroke-width="0.6"/>
<line x1="267.12807617078073" y1="231.6" x2="267.12807617078073" y2="232.6" stroke="#111" stroke-width="0.6"/>
<line x1="268.33998191588125" y1="231.6" x2="268.33998191588125" y2="232.6" stroke="#111" stroke-width="0.6"/>
<line x1="269.28000904205936" y1="231.6" x2="269.28000904205936" y2="232.6" stroke="#111" stroke-width="0.6"/>
<line x1="270.04806712872136" y1="231.6" x2="270.04806712872136" y2="232.6" stroke="#111" stroke-width="0.6"/>
<line x1="270.69745098813826" y1="231.6" x2="270.69745098813826" y2="232.6" stroke="#111" stroke-width="0.6"/>
<line x1="271.2599728738218" y1="231.6" x2="271.2599728738218" y2="232.6" stroke="#111" stroke-width="0.6"/>
<line x1="271.75615234156146" y1="231.6" x2="271.75615234156146" y2="232.6" stroke="#111" stroke-width="0.6"/>
<line x1="272.2" y1="231.6" x2="272.2" y2="233.5" stroke="#111" stroke-width="0.9"/>
<line x1="275.1199909579406" y1="231.6" x2="275.1199909579406" y2="232.6" stroke="#111" stroke-width="0.6"/>
<line x1="276.8280761707807" y1="231.6" x2="276.8280761707807" y2="232.6" stroke="#111" stroke-width="0.6"/>
<line x1="278.03998191588124" y1="231.6" x2="278.03998191588124" y2="232.6" stroke="#111" stroke-width="0.6"/>
<line x1="278.98000904205935" y1="231.6" x2="278.98000904205935" y2="232.6" stroke="#111" stroke-width="0.6"/>
<line x1="279.74806712872135" y1="231.6" x2="279.74806712872135" y2="232.6" stroke="#111" stroke-width="0.6"/>
<line x1="280.39745098813825" y1="231.6" x2="280.39745098813825" y2="232.6" stroke="#111" stroke-width="0.6"/>
<line x1="280.9599728738218" y1="231.6" x2="280.9599728738218" y2="232.6" stroke="#111" stroke-width="0.6"/>
<line x1="281.45615234156145" y1="231.6" x2="281.45615234156145" y2="232.6" stroke="#111" stroke-width="0.6"/>
<line x1="281.9" y1="231.6" x2="281.9" y2="233.5" stroke="#111" stroke-width="0.9"/>
<line x1="284.8199909579406" y1="231.6" x2="284.8199909579406" y2="232.6" stroke="#111" stroke-width="0.6"/>
<line x1="286.5280761707807" y1="231.6" x2="286.5280761707807" y2="232.6" stroke="#111" stroke-width="0.6"/>
<line x1="287.73998191588123" y1="231.6" x2="287.73998191588123" y2="232.6" stroke="#111" stroke-width="0.6"/>
<line x1="288.6800090420594" y1="231.6" x2="288.6800090420594" y2="232.6" stroke="#111" stroke-width="0.6"/>
<line x1="289.44806712872133" y1="231.6" x2="289.44806712872133" y2="232.6" stroke="#111" stroke-width="0.6"/>
<line x1="290.0974509881383" y1="231.6" x2="290.0974509881383" y2="232.6" stroke="#111" stroke-width="0.6"/>
<line x1="290.65997287382186" y1="231.6" x2="290.65997287382186" y2="232.6" stroke="#111" stroke-width="0.6"/>
<line x1="291.1561523415615" y1="231.6" x2="291.1561523415615" y2="232.6" stroke="#111" stroke-width="0.6"/>
<line x1="291.6" y1="231.6" x2="291.6" y2="233.5" stroke="#111" stroke-width="0.9"/>
<line x1="294.51999095794065" y1="231.6" x2="294.51999095794065" y2="232.6" stroke="#111" stroke-width="0.6"/>
<line x1="296.22807617078075" y1="231.6" x2="296.22807617078075" y2="232.6" stroke="#111" stroke-width="0.6"/>
<line x1="297.4399819158813" y1="231.6" x2="297.4399819158813" y2="232.6" stroke="#111" stroke-width="0.6"/>
<line x1="298.3800090420594" y1="231.6" x2="298.3800090420594" y2="232.6" stroke="#111" stroke-width="0.6"/>
<line x1="299.1480671287214" y1="231.6" x2="299.1480671287214" y2="232.6" stroke="#111" stroke-width="0.6"/>
<line x1="299.7974509881383" y1="231.6" x2="299.7974509881383" y2="232.6" stroke="#111" stroke-width="0.6"/>
<line x1="300.35997287382185" y1="231.6" x2="300.35997287382185" y2="232.6" stroke="#111" stroke-width="0.6"/>
<line x1="300.8561523415615" y1="231.6" x2="300.8561523415615" y2="232.6" stroke="#111" stroke-width="0.6"/>
<line x1="301.3" y1="231.6" x2="301.3" y2="233.5" stroke="#111" stroke-width="0.9"/>
<text transform="translate(265.5,241.1) rotate(-45)" font-size="5.3" text-anchor="end" font-weight="normal" fill="#1a1a1a" textLength="15.07" lengthAdjust="spacingAndGlyphs" stroke="#1a1a1a" stroke-width="0.15">0.0001</text>
<text transform="translate(275.2,241.1) rotate(-45)" font-size="5.3" text-anchor="end" font-weight="normal" fill="#1a1a1a" textLength="12.33" lengthAdjust="spacingAndGlyphs" stroke="#1a1a1a" stroke-width="0.15">0.001</text>
<text transform="translate(284.9,241.1) rotate(-45)" font-size="5.3" text-anchor="end" font-weight="normal" fill="#1a1a1a" textLength="9.59" lengthAdjust="spacingAndGlyphs" stroke="#1a1a1a" stroke-width="0.15">0.01</text>
<text transform="translate(294.6,241.1) rotate(-45)" font-size="5.3" text-anchor="end" font-weight="normal" fill="#1a1a1a" textLength="6.85" lengthAdjust="spacingAndGlyphs" stroke="#1a1a1a" stroke-width="0.15">0.1</text>
<text transform="translate(304.3,241.1) rotate(-45)" font-size="5.3" text-anchor="end" font-weight="normal" fill="#1a1a1a" textLength="2.74" lengthAdjust="spacingAndGlyphs" stroke="#1a1a1a" stroke-width="0.15">1</text>
<text x="282" y="257.9" font-size="7.6" text-anchor="middle" font-weight="normal" fill="#1a1a1a" textLength="9.9" lengthAdjust="spacingAndGlyphs" stroke="#1a1a1a" stroke-width="0.25">FDR</text>
<text transform="translate(310.3,207.9) rotate(-90)" font-size="5.9" text-anchor="middle" font-weight="normal" fill="#1a1a1a" textLength="46.8" lengthAdjust="spacingAndGlyphs" stroke="#1a1a1a" stroke-width="0.35">Downregulated DEGs</text>
<rect x="176.90" y="267.10" width="85.60" height="75.70" fill="#e5b4c1"/>
<rect x="262.50" y="267.10" width="38.80" height="76.40" fill="#e5b4c1"/>
<rect x="285.00" y="268.25" width="16.30" height="4.50" fill="#326b4d"/>
<line x1="260.3" y1="270.5" x2="262.5" y2="270.5" stroke="#111" stroke-width="0.9"/>
<text x="256.6" y="272.336" font-size="5.1" text-anchor="end" font-weight="normal" fill="#222" stroke="#222" stroke-width="0.08">MEK_UP.V1_UP</text>
<rect x="285.00" y="275.98" width="16.30" height="4.50" fill="#6ab143"/>
<line x1="260.3" y1="278.23" x2="262.5" y2="278.23" stroke="#111" stroke-width="0.9"/>
<text x="256.6" y="280.06600000000003" font-size="5.1" text-anchor="end" font-weight="normal" fill="#222" stroke="#222" stroke-width="0.08">BMI1_DN_MEL18_DN.V1_DN</text>
<rect x="280.00" y="283.71" width="21.30" height="4.50" fill="#cf0a7c"/>
<line x1="260.3" y1="285.96" x2="262.5" y2="285.96" stroke="#111" stroke-width="0.9"/>
<text x="256.6" y="287.796" font-size="5.1" text-anchor="end" font-weight="normal" fill="#222" stroke="#222" stroke-width="0.08">BMI1_DN.V1_UP</text>
<rect x="268.90" y="291.44" width="32.40" height="4.50" fill="#a9651d"/>
<line x1="260.3" y1="293.69" x2="262.5" y2="293.69" stroke="#111" stroke-width="0.9"/>
<text x="256.6" y="295.526" font-size="5.1" text-anchor="end" font-weight="normal" fill="#222" stroke="#222" stroke-width="0.08">BMI1_DN_MEL18_DN.V1_UP</text>
<rect x="288.30" y="299.17" width="13.00" height="4.50" fill="#dc559a"/>
<line x1="260.3" y1="301.42" x2="262.5" y2="301.42" stroke="#111" stroke-width="0.9"/>
<text x="256.6" y="303.25600000000003" font-size="5.1" text-anchor="end" font-weight="normal" fill="#222" stroke="#222" stroke-width="0.08">KRAS.LUNG.BREAST_UP.V1_UP</text>
<rect x="284.70" y="306.90" width="16.60" height="4.50" fill="#e3901d"/>
<line x1="260.3" y1="309.15" x2="262.5" y2="309.15" stroke="#111" stroke-width="0.9"/>
<text x="256.6" y="310.986" font-size="5.1" text-anchor="end" font-weight="normal" fill="#222" stroke="#222" stroke-width="0.08">KRAS.DF.V1_UP</text>
<rect x="289.00" y="314.63" width="12.30" height="4.50" fill="#326b4d"/>
<line x1="260.3" y1="316.88" x2="262.5" y2="316.88" stroke="#111" stroke-width="0.9"/>
<text x="256.6" y="318.716" font-size="5.1" text-anchor="end" font-weight="normal" fill="#222" stroke="#222" stroke-width="0.08">ESC_V6.5_UP_EARLY.V1_DN</text>
<rect x="287.90" y="322.36" width="13.40" height="4.50" fill="#6ab143"/>
<line x1="260.3" y1="324.61" x2="262.5" y2="324.61" stroke="#111" stroke-width="0.9"/>
<text x="256.6" y="326.446" font-size="5.1" text-anchor="end" font-weight="normal" fill="#222" stroke="#222" stroke-width="0.08">ESC_V6.5_UP_LATE.V1_UP</text>
<rect x="286.20" y="330.09" width="15.10" height="4.50" fill="#cf0a7c"/>
<line x1="260.3" y1="332.34" x2="262.5" y2="332.34" stroke="#111" stroke-width="0.9"/>
<text x="256.6" y="334.176" font-size="5.1" text-anchor="end" font-weight="normal" fill="#222" stroke="#222" stroke-width="0.08">ESC_J1_UP_EARLY.V1_DN</text>
<rect x="280.10" y="337.82" width="21.20" height="4.50" fill="#a9651d"/>
<line x1="260.3" y1="340.07" x2="262.5" y2="340.07" stroke="#111" stroke-width="0.9"/>
<text x="256.6" y="341.906" font-size="5.1" text-anchor="end" font-weight="normal" fill="#222" stroke="#222" stroke-width="0.08">ESC_J1_UP_LATE.V1_UP</text>
<line x1="262.5" y1="266.8" x2="262.5" y2="344.1" stroke="#111" stroke-width="1.2"/>
<line x1="301.3" y1="266.8" x2="301.3" y2="344.1" stroke="#111" stroke-width="1.2"/>
<line x1="261.9" y1="343.5" x2="301.90000000000003" y2="343.5" stroke="#111" stroke-width="1.2"/>
<line x1="262.5" y1="343.5" x2="262.5" y2="345.4" stroke="#111" stroke-width="0.9"/>
<line x1="266.38328694406533" y1="343.5" x2="266.38328694406533" y2="344.5" stroke="#111" stroke-width="0.6"/>
<line x1="268.65486418588364" y1="343.5" x2="268.65486418588364" y2="344.5" stroke="#111" stroke-width="0.6"/>
<line x1="270.2665738881307" y1="343.5" x2="270.2665738881307" y2="344.5" stroke="#111" stroke-width="0.6"/>
<line x1="271.51671305593464" y1="343.5" x2="271.51671305593464" y2="344.5" stroke="#111" stroke-width="0.6"/>
<line x1="272.538151129949" y1="343.5" x2="272.538151129949" y2="344.5" stroke="#111" stroke-width="0.6"/>
<line x1="273.4017647161839" y1="343.5" x2="273.4017647161839" y2="344.5" stroke="#111" stroke-width="0.6"/>
<line x1="274.14986083219605" y1="343.5" x2="274.14986083219605" y2="344.5" stroke="#111" stroke-width="0.6"/>
<line x1="274.8097283717673" y1="343.5" x2="274.8097283717673" y2="344.5" stroke="#111" stroke-width="0.6"/>
<line x1="275.4" y1="343.5" x2="275.4" y2="345.4" stroke="#111" stroke-width="0.9"/>
<line x1="279.28328694406537" y1="343.5" x2="279.28328694406537" y2="344.5" stroke="#111" stroke-width="0.6"/>
<line x1="281.5548641858836" y1="343.5" x2="281.5548641858836" y2="344.5" stroke="#111" stroke-width="0.6"/>
<line x1="283.1665738881307" y1="343.5" x2="283.1665738881307" y2="344.5" stroke="#111" stroke-width="0.6"/>
<line x1="284.4167130559346" y1="343.5" x2="284.4167130559346" y2="344.5" stroke="#111" stroke-width="0.6"/>
<line x1="285.438151129949" y1="343.5" x2="285.438151129949" y2="344.5" stroke="#111" stroke-width="0.6"/>
<line x1="286.3017647161839" y1="343.5" x2="286.3017647161839" y2="344.5" stroke="#111" stroke-width="0.6"/>
<line x1="287.0498608321961" y1="343.5" x2="287.0498608321961" y2="344.5" stroke="#111" stroke-width="0.6"/>
<line x1="287.7097283717673" y1="343.5" x2="287.7097283717673" y2="344.5" stroke="#111" stroke-width="0.6"/>
<line x1="288.3" y1="343.5" x2="288.3" y2="345.4" stroke="#111" stroke-width="0.9"/>
<line x1="292.21338994363174" y1="343.5" x2="292.21338994363174" y2="344.5" stroke="#111" stroke-width="0.6"/>
<line x1="294.5025763113556" y1="343.5" x2="294.5025763113556" y2="344.5" stroke="#111" stroke-width="0.6"/>
<line x1="296.1267798872635" y1="343.5" x2="296.1267798872635" y2="344.5" stroke="#111" stroke-width="0.6"/>
<line x1="297.3866100563683" y1="343.5" x2="297.3866100563683" y2="344.5" stroke="#111" stroke-width="0.6"/>
<line x1="298.4159662549874" y1="343.5" x2="298.4159662549874" y2="344.5" stroke="#111" stroke-width="0.6"/>
<line x1="299.2862745201854" y1="343.5" x2="299.2862745201854" y2="344.5" stroke="#111" stroke-width="0.6"/>
<line x1="300.04016983089525" y1="343.5" x2="300.04016983089525" y2="344.5" stroke="#111" stroke-width="0.6"/>
<line x1="300.70515262271124" y1="343.5" x2="300.70515262271124" y2="344.5" stroke="#111" stroke-width="0.6"/>
<line x1="301.3" y1="343.5" x2="301.3" y2="345.4" stroke="#111" stroke-width="0.9"/>
<text transform="translate(265.5,353.0) rotate(-45)" font-size="5.3" text-anchor="end" font-weight="normal" fill="#1a1a1a" textLength="12.33" lengthAdjust="spacingAndGlyphs" stroke="#1a1a1a" stroke-width="0.15">0.001</text>
<text transform="translate(278.4,353.0) rotate(-45)" font-size="5.3" text-anchor="end" font-weight="normal" fill="#1a1a1a" textLength="9.59" lengthAdjust="spacingAndGlyphs" stroke="#1a1a1a" stroke-width="0.15">0.01</text>
<text transform="translate(291.3,353.0) rotate(-45)" font-size="5.3" text-anchor="end" font-weight="normal" fill="#1a1a1a" textLength="6.85" lengthAdjust="spacingAndGlyphs" stroke="#1a1a1a" stroke-width="0.15">0.1</text>
<text transform="translate(304.3,353.0) rotate(-45)" font-size="5.3" text-anchor="end" font-weight="normal" fill="#1a1a1a" textLength="2.74" lengthAdjust="spacingAndGlyphs" stroke="#1a1a1a" stroke-width="0.15">1</text>
<text x="282" y="367.9" font-size="7.6" text-anchor="middle" font-weight="normal" fill="#1a1a1a" textLength="9.9" lengthAdjust="spacingAndGlyphs" stroke="#1a1a1a" stroke-width="0.25">FDR</text>
<text transform="translate(310.0,305.2) rotate(-90)" font-size="5.9" text-anchor="middle" font-weight="normal" fill="#1a1a1a" textLength="41.2" lengthAdjust="spacingAndGlyphs" stroke="#1a1a1a" stroke-width="0.35">Upregulated DEGs</text>
<text transform="translate(172.2,264.35) rotate(-90)" font-size="6.0" text-anchor="middle" font-weight="normal" fill="#1a1a1a" textLength="105.9" lengthAdjust="spacingAndGlyphs" stroke="#1a1a1a" stroke-width="0.35">DEGs enriched for MSigDB oncogenic signature</text>
<rect x="338.50" y="231.70" width="100.90" height="10.70" fill="#c3c9d9"/>
<rect x="439.40" y="231.70" width="51.90" height="11.10" fill="#c3c9d9"/>
<rect x="468.20" y="233.80" width="23.10" height="7.00" fill="#6ab143"/>
<line x1="437.2" y1="237.3" x2="439.4" y2="237.3" stroke="#111" stroke-width="0.9"/>
<text x="433.5" y="239.13600000000002" font-size="5.1" text-anchor="end" font-weight="normal" fill="#222" stroke="#222" stroke-width="0.08">Lysosome</text>
<line x1="439.4" y1="231.39999999999998" x2="439.4" y2="243.4" stroke="#111" stroke-width="1.2"/>
<line x1="491.3" y1="231.39999999999998" x2="491.3" y2="243.4" stroke="#111" stroke-width="1.2"/>
<line x1="438.79999999999995" y1="242.8" x2="491.90000000000003" y2="242.8" stroke="#111" stroke-width="1.2"/>
<line x1="439.4" y1="242.8" x2="439.4" y2="244.70000000000002" stroke="#111" stroke-width="0.9"/>
<line x1="443.3133899436317" y1="242.8" x2="443.3133899436317" y2="243.8" stroke="#111" stroke-width="0.6"/>
<line x1="445.60257631135556" y1="242.8" x2="445.60257631135556" y2="243.8" stroke="#111" stroke-width="0.6"/>
<line x1="447.2267798872635" y1="242.8" x2="447.2267798872635" y2="243.8" stroke="#111" stroke-width="0.6"/>
<line x1="448.48661005636825" y1="242.8" x2="448.48661005636825" y2="243.8" stroke="#111" stroke-width="0.6"/>
<line x1="449.51596625498735" y1="242.8" x2="449.51596625498735" y2="243.8" stroke="#111" stroke-width="0.6"/>
<line x1="450.38627452018534" y1="242.8" x2="450.38627452018534" y2="243.8" stroke="#111" stroke-width="0.6"/>
<line x1="451.1401698308952" y1="242.8" x2="451.1401698308952" y2="243.8" stroke="#111" stroke-width="0.6"/>
<line x1="451.8051526227112" y1="242.8" x2="451.8051526227112" y2="243.8" stroke="#111" stroke-width="0.6"/>
<line x1="452.4" y1="242.8" x2="452.4" y2="244.70000000000002" stroke="#111" stroke-width="0.9"/>
<line x1="456.3133899436317" y1="242.8" x2="456.3133899436317" y2="243.8" stroke="#111" stroke-width="0.6"/>
<line x1="458.60257631135556" y1="242.8" x2="458.60257631135556" y2="243.8" stroke="#111" stroke-width="0.6"/>
<line x1="460.2267798872635" y1="242.8" x2="460.2267798872635" y2="243.8" stroke="#111" stroke-width="0.6"/>
<line x1="461.48661005636825" y1="242.8" x2="461.48661005636825" y2="243.8" stroke="#111" stroke-width="0.6"/>
<line x1="462.51596625498735" y1="242.8" x2="462.51596625498735" y2="243.8" stroke="#111" stroke-width="0.6"/>
<line x1="463.38627452018534" y1="242.8" x2="463.38627452018534" y2="243.8" stroke="#111" stroke-width="0.6"/>
<line x1="464.1401698308952" y1="242.8" x2="464.1401698308952" y2="243.8" stroke="#111" stroke-width="0.6"/>
<line x1="464.8051526227112" y1="242.8" x2="464.8051526227112" y2="243.8" stroke="#111" stroke-width="0.6"/>
<line x1="465.4" y1="242.8" x2="465.4" y2="244.70000000000002" stroke="#111" stroke-width="0.9"/>
<line x1="469.3133899436317" y1="242.8" x2="469.3133899436317" y2="243.8" stroke="#111" stroke-width="0.6"/>
<line x1="471.60257631135556" y1="242.8" x2="471.60257631135556" y2="243.8" stroke="#111" stroke-width="0.6"/>
<line x1="473.2267798872635" y1="242.8" x2="473.2267798872635" y2="243.8" stroke="#111" stroke-width="0.6"/>
<line x1="474.48661005636825" y1="242.8" x2="474.48661005636825" y2="243.8" stroke="#111" stroke-width="0.6"/>
<line x1="475.51596625498735" y1="242.8" x2="475.51596625498735" y2="243.8" stroke="#111" stroke-width="0.6"/>
<line x1="476.38627452018534" y1="242.8" x2="476.38627452018534" y2="243.8" stroke="#111" stroke-width="0.6"/>
<line x1="477.1401698308952" y1="242.8" x2="477.1401698308952" y2="243.8" stroke="#111" stroke-width="0.6"/>
<line x1="477.8051526227112" y1="242.8" x2="477.8051526227112" y2="243.8" stroke="#111" stroke-width="0.6"/>
<line x1="478.4" y1="242.8" x2="478.4" y2="244.70000000000002" stroke="#111" stroke-width="0.9"/>
<line x1="482.28328694406537" y1="242.8" x2="482.28328694406537" y2="243.8" stroke="#111" stroke-width="0.6"/>
<line x1="484.5548641858836" y1="242.8" x2="484.5548641858836" y2="243.8" stroke="#111" stroke-width="0.6"/>
<line x1="486.1665738881307" y1="242.8" x2="486.1665738881307" y2="243.8" stroke="#111" stroke-width="0.6"/>
<line x1="487.4167130559346" y1="242.8" x2="487.4167130559346" y2="243.8" stroke="#111" stroke-width="0.6"/>
<line x1="488.438151129949" y1="242.8" x2="488.438151129949" y2="243.8" stroke="#111" stroke-width="0.6"/>
<line x1="489.3017647161839" y1="242.8" x2="489.3017647161839" y2="243.8" stroke="#111" stroke-width="0.6"/>
<line x1="490.0498608321961" y1="242.8" x2="490.0498608321961" y2="243.8" stroke="#111" stroke-width="0.6"/>
<line x1="490.7097283717673" y1="242.8" x2="490.7097283717673" y2="243.8" stroke="#111" stroke-width="0.6"/>
<line x1="491.3" y1="242.8" x2="491.3" y2="244.70000000000002" stroke="#111" stroke-width="0.9"/>
<text transform="translate(442.4,252.3) rotate(-45)" font-size="5.3" text-anchor="end" font-weight="normal" fill="#1a1a1a" textLength="15.07" lengthAdjust="spacingAndGlyphs" stroke="#1a1a1a" stroke-width="0.15">0.0001</text>
<text transform="translate(455.4,252.3) rotate(-45)" font-size="5.3" text-anchor="end" font-weight="normal" fill="#1a1a1a" textLength="12.33" lengthAdjust="spacingAndGlyphs" stroke="#1a1a1a" stroke-width="0.15">0.001</text>
<text transform="translate(468.4,252.3) rotate(-45)" font-size="5.3" text-anchor="end" font-weight="normal" fill="#1a1a1a" textLength="9.59" lengthAdjust="spacingAndGlyphs" stroke="#1a1a1a" stroke-width="0.15">0.01</text>
<text transform="translate(481.4,252.3) rotate(-45)" font-size="5.3" text-anchor="end" font-weight="normal" fill="#1a1a1a" textLength="6.85" lengthAdjust="spacingAndGlyphs" stroke="#1a1a1a" stroke-width="0.15">0.1</text>
<text transform="translate(494.3,252.3) rotate(-45)" font-size="5.3" text-anchor="end" font-weight="normal" fill="#1a1a1a" textLength="2.74" lengthAdjust="spacingAndGlyphs" stroke="#1a1a1a" stroke-width="0.15">1</text>
<text x="465.7" y="269.1" font-size="7.6" text-anchor="middle" font-weight="normal" fill="#1a1a1a" textLength="9.9" lengthAdjust="spacingAndGlyphs" stroke="#1a1a1a" stroke-width="0.25">FDR</text>
<text transform="translate(500.7,237.1) rotate(-90)" font-size="5.9" text-anchor="middle" font-weight="normal" fill="#1a1a1a" textLength="33.4" lengthAdjust="spacingAndGlyphs" stroke="#1a1a1a" stroke-width="0.35">Downregulated</text>
<text transform="translate(510.8,237.0) rotate(-90)" font-size="5.9" text-anchor="middle" font-weight="normal" fill="#1a1a1a" textLength="11.9" lengthAdjust="spacingAndGlyphs" stroke="#1a1a1a" stroke-width="0.35">DEGs</text>
<rect x="338.50" y="278.80" width="100.90" height="62.40" fill="#e5b4c1"/>
<rect x="439.40" y="278.80" width="51.90" height="63.90" fill="#e5b4c1"/>
<rect x="482.00" y="280.40" width="9.30" height="6.90" fill="#e3901d"/>
<line x1="437.2" y1="283.85" x2="439.4" y2="283.85" stroke="#111" stroke-width="0.9"/>
<text x="433.5" y="285.68600000000004" font-size="5.1" text-anchor="end" font-weight="normal" fill="#222" stroke="#222" stroke-width="0.08">Proteoglycans in cancer</text>
<rect x="472.30" y="290.95" width="19.00" height="6.90" fill="#2d4c8a"/>
<line x1="437.2" y1="294.4" x2="439.4" y2="294.4" stroke="#111" stroke-width="0.9"/>
<text x="433.5" y="296.236" font-size="5.1" text-anchor="end" font-weight="normal" fill="#222" stroke="#222" stroke-width="0.08">Breast cancer</text>
<rect x="471.10" y="301.50" width="20.20" height="6.90" fill="#326b4d"/>
<line x1="437.2" y1="304.95" x2="439.4" y2="304.95" stroke="#111" stroke-width="0.9"/>
<text x="433.5" y="306.786" font-size="5.1" text-anchor="end" font-weight="normal" fill="#222" stroke="#222" stroke-width="0.08">Prostate cancer</text>
<rect x="470.30" y="312.05" width="21.00" height="6.90" fill="#6ab143"/>
<line x1="437.2" y1="315.5" x2="439.4" y2="315.5" stroke="#111" stroke-width="0.9"/>
<text x="433.5" y="317.336" font-size="5.1" text-anchor="end" font-weight="normal" fill="#222" stroke="#222" stroke-width="0.08">Transcriptional misregulation in cancer</text>
<rect x="463.10" y="322.60" width="28.20" height="6.90" fill="#cf0a7c"/>
<line x1="437.2" y1="326.05" x2="439.4" y2="326.05" stroke="#111" stroke-width="0.9"/>
<text x="433.5" y="327.886" font-size="5.1" text-anchor="end" font-weight="normal" fill="#222" stroke="#222" stroke-width="0.08">Small cell lung cancer</text>
<rect x="453.10" y="333.15" width="38.20" height="6.90" fill="#a9651d"/>
<line x1="437.2" y1="336.6" x2="439.4" y2="336.6" stroke="#111" stroke-width="0.9"/>
<text x="433.5" y="338.43600000000004" font-size="5.1" text-anchor="end" font-weight="normal" fill="#222" stroke="#222" stroke-width="0.08">Pathways in cancer</text>
<line x1="439.4" y1="278.5" x2="439.4" y2="343.3" stroke="#111" stroke-width="1.2"/>
<line x1="491.3" y1="278.5" x2="491.3" y2="343.3" stroke="#111" stroke-width="1.2"/>
<line x1="438.79999999999995" y1="342.7" x2="491.90000000000003" y2="342.7" stroke="#111" stroke-width="1.2"/>
<line x1="439.4" y1="342.7" x2="439.4" y2="344.59999999999997" stroke="#111" stroke-width="0.9"/>
<line x1="443.3133899436317" y1="342.7" x2="443.3133899436317" y2="343.7" stroke="#111" stroke-width="0.6"/>
<line x1="445.60257631135556" y1="342.7" x2="445.60257631135556" y2="343.7" stroke="#111" stroke-width="0.6"/>
<line x1="447.2267798872635" y1="342.7" x2="447.2267798872635" y2="343.7" stroke="#111" stroke-width="0.6"/>
<line x1="448.48661005636825" y1="342.7" x2="448.48661005636825" y2="343.7" stroke="#111" stroke-width="0.6"/>
<line x1="449.51596625498735" y1="342.7" x2="449.51596625498735" y2="343.7" stroke="#111" stroke-width="0.6"/>
<line x1="450.38627452018534" y1="342.7" x2="450.38627452018534" y2="343.7" stroke="#111" stroke-width="0.6"/>
<line x1="451.1401698308952" y1="342.7" x2="451.1401698308952" y2="343.7" stroke="#111" stroke-width="0.6"/>
<line x1="451.8051526227112" y1="342.7" x2="451.8051526227112" y2="343.7" stroke="#111" stroke-width="0.6"/>
<line x1="452.4" y1="342.7" x2="452.4" y2="344.59999999999997" stroke="#111" stroke-width="0.9"/>
<line x1="456.3133899436317" y1="342.7" x2="456.3133899436317" y2="343.7" stroke="#111" stroke-width="0.6"/>
<line x1="458.60257631135556" y1="342.7" x2="458.60257631135556" y2="343.7" stroke="#111" stroke-width="0.6"/>
<line x1="460.2267798872635" y1="342.7" x2="460.2267798872635" y2="343.7" stroke="#111" stroke-width="0.6"/>
<line x1="461.48661005636825" y1="342.7" x2="461.48661005636825" y2="343.7" stroke="#111" stroke-width="0.6"/>
<line x1="462.51596625498735" y1="342.7" x2="462.51596625498735" y2="343.7" stroke="#111" stroke-width="0.6"/>
<line x1="463.38627452018534" y1="342.7" x2="463.38627452018534" y2="343.7" stroke="#111" stroke-width="0.6"/>
<line x1="464.1401698308952" y1="342.7" x2="464.1401698308952" y2="343.7" stroke="#111" stroke-width="0.6"/>
<line x1="464.8051526227112" y1="342.7" x2="464.8051526227112" y2="343.7" stroke="#111" stroke-width="0.6"/>
<line x1="465.4" y1="342.7" x2="465.4" y2="344.59999999999997" stroke="#111" stroke-width="0.9"/>
<line x1="469.3133899436317" y1="342.7" x2="469.3133899436317" y2="343.7" stroke="#111" stroke-width="0.6"/>
<line x1="471.60257631135556" y1="342.7" x2="471.60257631135556" y2="343.7" stroke="#111" stroke-width="0.6"/>
<line x1="473.2267798872635" y1="342.7" x2="473.2267798872635" y2="343.7" stroke="#111" stroke-width="0.6"/>
<line x1="474.48661005636825" y1="342.7" x2="474.48661005636825" y2="343.7" stroke="#111" stroke-width="0.6"/>
<line x1="475.51596625498735" y1="342.7" x2="475.51596625498735" y2="343.7" stroke="#111" stroke-width="0.6"/>
<line x1="476.38627452018534" y1="342.7" x2="476.38627452018534" y2="343.7" stroke="#111" stroke-width="0.6"/>
<line x1="477.1401698308952" y1="342.7" x2="477.1401698308952" y2="343.7" stroke="#111" stroke-width="0.6"/>
<line x1="477.8051526227112" y1="342.7" x2="477.8051526227112" y2="343.7" stroke="#111" stroke-width="0.6"/>
<line x1="478.4" y1="342.7" x2="478.4" y2="344.59999999999997" stroke="#111" stroke-width="0.9"/>
<line x1="482.28328694406537" y1="342.7" x2="482.28328694406537" y2="343.7" stroke="#111" stroke-width="0.6"/>
<line x1="484.5548641858836" y1="342.7" x2="484.5548641858836" y2="343.7" stroke="#111" stroke-width="0.6"/>
<line x1="486.1665738881307" y1="342.7" x2="486.1665738881307" y2="343.7" stroke="#111" stroke-width="0.6"/>
<line x1="487.4167130559346" y1="342.7" x2="487.4167130559346" y2="343.7" stroke="#111" stroke-width="0.6"/>
<line x1="488.438151129949" y1="342.7" x2="488.438151129949" y2="343.7" stroke="#111" stroke-width="0.6"/>
<line x1="489.3017647161839" y1="342.7" x2="489.3017647161839" y2="343.7" stroke="#111" stroke-width="0.6"/>
<line x1="490.0498608321961" y1="342.7" x2="490.0498608321961" y2="343.7" stroke="#111" stroke-width="0.6"/>
<line x1="490.7097283717673" y1="342.7" x2="490.7097283717673" y2="343.7" stroke="#111" stroke-width="0.6"/>
<line x1="491.3" y1="342.7" x2="491.3" y2="344.59999999999997" stroke="#111" stroke-width="0.9"/>
<text transform="translate(442.4,352.2) rotate(-45)" font-size="5.3" text-anchor="end" font-weight="normal" fill="#1a1a1a" textLength="15.07" lengthAdjust="spacingAndGlyphs" stroke="#1a1a1a" stroke-width="0.15">0.0001</text>
<text transform="translate(455.4,352.2) rotate(-45)" font-size="5.3" text-anchor="end" font-weight="normal" fill="#1a1a1a" textLength="12.33" lengthAdjust="spacingAndGlyphs" stroke="#1a1a1a" stroke-width="0.15">0.001</text>
<text transform="translate(468.4,352.2) rotate(-45)" font-size="5.3" text-anchor="end" font-weight="normal" fill="#1a1a1a" textLength="9.59" lengthAdjust="spacingAndGlyphs" stroke="#1a1a1a" stroke-width="0.15">0.01</text>
<text transform="translate(481.4,352.2) rotate(-45)" font-size="5.3" text-anchor="end" font-weight="normal" fill="#1a1a1a" textLength="6.85" lengthAdjust="spacingAndGlyphs" stroke="#1a1a1a" stroke-width="0.15">0.1</text>
<text transform="translate(494.3,352.2) rotate(-45)" font-size="5.3" text-anchor="end" font-weight="normal" fill="#1a1a1a" textLength="2.74" lengthAdjust="spacingAndGlyphs" stroke="#1a1a1a" stroke-width="0.15">1</text>
<text x="465.6" y="368.0" font-size="7.6" text-anchor="middle" font-weight="normal" fill="#1a1a1a" textLength="9.9" lengthAdjust="spacingAndGlyphs" stroke="#1a1a1a" stroke-width="0.25">FDR</text>
<text transform="translate(500.3,309.9) rotate(-90)" font-size="5.9" text-anchor="middle" font-weight="normal" fill="#1a1a1a" textLength="40.5" lengthAdjust="spacingAndGlyphs" stroke="#1a1a1a" stroke-width="0.35">Upregulated DEGs</text>
<text transform="translate(333.3,284.6) rotate(-90)" font-size="6.4" text-anchor="middle" font-weight="normal" fill="#1a1a1a" textLength="80.6" lengthAdjust="spacingAndGlyphs" stroke="#1a1a1a" stroke-width="0.35">DEGs enriched for murine KEGG 2019</text>
<rect x="0.5" y="0.5" width="519" height="376" fill="none" stroke="#000" stroke-width="1"/>
</svg>
</body></html>
